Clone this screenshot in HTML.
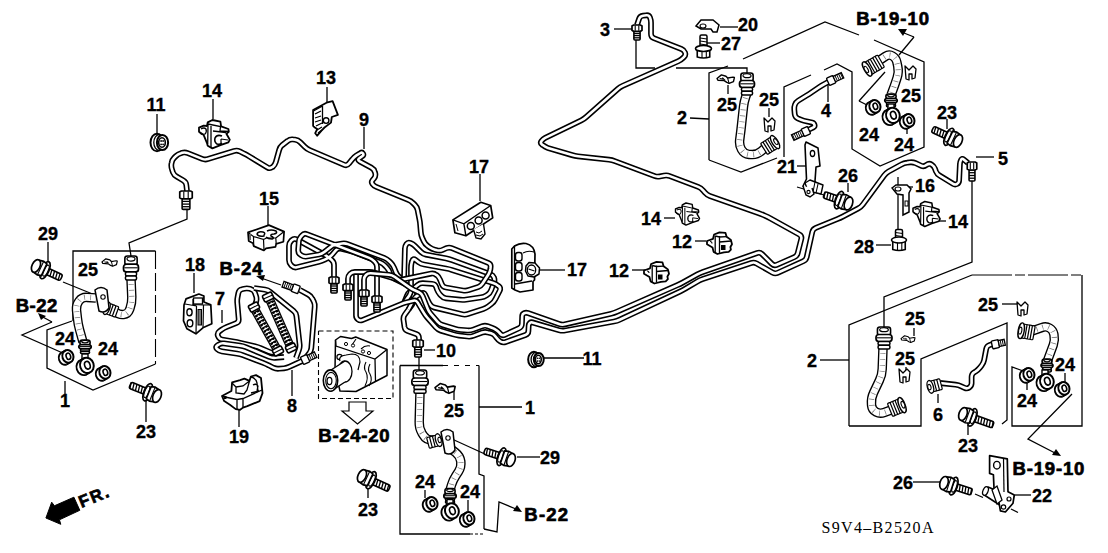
<!DOCTYPE html>
<html><head><meta charset="utf-8"><style>
html,body{margin:0;padding:0;background:#fff;width:1108px;height:553px;overflow:hidden}
svg{display:block}
text{font-family:"Liberation Sans",sans-serif;font-weight:bold;fill:#000}
.n{stroke:#000;stroke-width:0.35}
.b{stroke:#000;stroke-width:0.7}
.s{font-family:"Liberation Serif",serif;font-weight:normal}
</style></head><body>
<svg width="1108" height="553" viewBox="0 0 1108 553">
<rect width="1108" height="553" fill="#fff"/>
<polyline points="157.0,114.0 157.0,133.0" fill="none" stroke="#000" stroke-width="1.3"/>
<polyline points="213.0,99.0 213.0,119.0" fill="none" stroke="#000" stroke-width="1.3"/>
<polyline points="327.0,87.0 327.0,102.0" fill="none" stroke="#000" stroke-width="1.3"/>
<polyline points="364.0,127.0 364.0,149.0" fill="none" stroke="#000" stroke-width="1.3"/>
<polyline points="614.0,29.0 632.0,29.0" fill="none" stroke="#000" stroke-width="1.3"/>
<polyline points="720.0,27.0 738.0,27.0" fill="none" stroke="#000" stroke-width="1.3"/>
<polyline points="707.0,43.0 720.0,43.0" fill="none" stroke="#000" stroke-width="1.3"/>
<polyline points="48.0,242.0 48.0,262.0" fill="none" stroke="#000" stroke-width="1.3"/>
<polyline points="194.0,273.0 194.0,293.0" fill="none" stroke="#000" stroke-width="1.3"/>
<polyline points="222.0,310.0 222.0,323.0" fill="none" stroke="#000" stroke-width="1.3"/>
<polyline points="292.0,370.0 292.0,396.0" fill="none" stroke="#000" stroke-width="1.3"/>
<polyline points="65.0,381.0 65.0,394.0" fill="none" stroke="#000" stroke-width="1.3"/>
<polyline points="146.0,401.0 146.0,422.0" fill="none" stroke="#000" stroke-width="1.3"/>
<polyline points="239.0,410.0 239.0,427.0" fill="none" stroke="#000" stroke-width="1.3"/>
<polyline points="480.0,174.0 480.0,201.0" fill="none" stroke="#000" stroke-width="1.3"/>
<polyline points="268.0,206.0 268.0,225.0" fill="none" stroke="#000" stroke-width="1.3"/>
<polyline points="664.0,218.0 675.0,218.0" fill="none" stroke="#000" stroke-width="1.3"/>
<polyline points="695.0,241.0 706.0,241.0" fill="none" stroke="#000" stroke-width="1.3"/>
<polyline points="540.0,270.0 565.0,270.0" fill="none" stroke="#000" stroke-width="1.3"/>
<polyline points="632.0,270.0 646.0,270.0" fill="none" stroke="#000" stroke-width="1.3"/>
<polyline points="797.0,166.0 806.0,166.0" fill="none" stroke="#000" stroke-width="1.3"/>
<polyline points="848.0,183.0 848.0,192.0" fill="none" stroke="#000" stroke-width="1.3"/>
<polyline points="904.0,187.0 913.0,187.0" fill="none" stroke="#000" stroke-width="1.3"/>
<polyline points="876.0,245.0 891.0,245.0" fill="none" stroke="#000" stroke-width="1.3"/>
<polyline points="938.0,221.0 946.0,221.0" fill="none" stroke="#000" stroke-width="1.3"/>
<polyline points="976.0,157.0 994.0,157.0" fill="none" stroke="#000" stroke-width="1.3"/>
<polyline points="690.0,118.0 709.0,119.0" fill="none" stroke="#000" stroke-width="1.3"/>
<polyline points="728.0,85.0 728.0,94.0" fill="none" stroke="#000" stroke-width="1.3"/>
<polyline points="769.0,108.0 769.0,117.0" fill="none" stroke="#000" stroke-width="1.3"/>
<polyline points="828.0,84.0 828.0,102.0" fill="none" stroke="#000" stroke-width="1.3"/>
<polyline points="947.0,119.0 947.0,129.0" fill="none" stroke="#000" stroke-width="1.3"/>
<polyline points="907.0,128.0 907.0,134.0" fill="none" stroke="#000" stroke-width="1.3"/>
<polyline points="820.0,360.0 849.0,360.0" fill="none" stroke="#000" stroke-width="1.3"/>
<polyline points="914.0,328.0 914.0,336.0" fill="none" stroke="#000" stroke-width="1.3"/>
<polyline points="906.0,367.0 906.0,371.0" fill="none" stroke="#000" stroke-width="1.3"/>
<polyline points="1002.0,304.0 1018.0,304.0" fill="none" stroke="#000" stroke-width="1.3"/>
<polyline points="938.0,394.0 938.0,403.0" fill="none" stroke="#000" stroke-width="1.3"/>
<polyline points="968.0,425.0 968.0,435.0" fill="none" stroke="#000" stroke-width="1.3"/>
<polyline points="1027.0,383.0 1027.0,390.0" fill="none" stroke="#000" stroke-width="1.3"/>
<polyline points="1065.0,373.0 1065.0,384.0" fill="none" stroke="#000" stroke-width="1.3"/>
<polyline points="913.0,482.0 941.0,482.0" fill="none" stroke="#000" stroke-width="1.3"/>
<polyline points="1015.0,495.0 1031.0,495.0" fill="none" stroke="#000" stroke-width="1.3"/>
<polyline points="479.0,407.0 522.0,407.0" fill="none" stroke="#000" stroke-width="1.3"/>
<polyline points="517.0,457.0 540.0,457.0" fill="none" stroke="#000" stroke-width="1.3"/>
<polyline points="425.0,490.0 425.0,498.0" fill="none" stroke="#000" stroke-width="1.3"/>
<polyline points="468.0,500.0 468.0,511.0" fill="none" stroke="#000" stroke-width="1.3"/>
<polyline points="368.0,489.0 368.0,498.0" fill="none" stroke="#000" stroke-width="1.3"/>
<polyline points="454.0,392.0 454.0,400.0" fill="none" stroke="#000" stroke-width="1.3"/>
<polyline points="424.0,350.0 435.0,350.0" fill="none" stroke="#000" stroke-width="1.3"/>
<polyline points="544.0,358.0 584.0,358.0" fill="none" stroke="#000" stroke-width="1.3"/>
<polyline points="73.0,321.0 73.0,251.0 155.5,251.0" fill="none" stroke="#000" stroke-width="1.3"/>
<polyline points="155.5,251.0 155.5,364.0" fill="none" stroke="#000" stroke-width="1.1" stroke-dasharray="18 4"/>
<polyline points="155.5,364.0 93.0,390.0 47.0,368.0 47.0,330.0 72.0,321.0" fill="none" stroke="#000" stroke-width="1.3"/>
<polyline points="63.0,282.0 95.0,295.0" fill="none" stroke="#000" stroke-width="1.3"/>
<polyline points="187.0,209.0 187.0,219.0 129.0,243.0 131.0,256.0" fill="none" stroke="#000" stroke-width="1.3"/>
<polyline points="52.0,322.0 22.0,335.0 65.0,354.0" fill="none" stroke="#000" stroke-width="1.3"/>
<path d="M46,316 l-8,-3 l3,7 z" fill="#000"/>
<polyline points="41.0,316.0 52.0,322.0" fill="none" stroke="#000" stroke-width="1.3"/>
<polyline points="400.0,365.5 443.0,365.5" fill="none" stroke="#000" stroke-width="1.3"/>
<polyline points="443.0,365.5 479.0,365.5" fill="none" stroke="#000" stroke-width="1.1" stroke-dasharray="5 6"/>
<polyline points="479.0,365.5 479.0,474.0 484.0,476.0 484.0,529.0" fill="none" stroke="#000" stroke-width="1.3"/>
<polyline points="400.0,365.5 400.0,534.0 470.0,534.0" fill="none" stroke="#000" stroke-width="1.3"/>
<polyline points="419.0,357.0 419.0,371.0" fill="none" stroke="#000" stroke-width="1.3"/>
<polyline points="470.0,534.0 484.0,534.0" fill="none" stroke="#000" stroke-width="1.0" stroke-dasharray="3 2"/>
<polyline points="484.0,529.0 497.0,532.0 499.0,502.0 516.0,509.0" fill="none" stroke="#000" stroke-width="1.3"/>
<path d="M522,512 l-9,-1 l4,-6 z" fill="#000"/>
<polyline points="441.0,434.0 487.0,455.0" fill="none" stroke="#000" stroke-width="1.3"/>
<polyline points="709.0,160.0 709.0,73.0 728.0,66.0" fill="none" stroke="#000" stroke-width="1.3"/>
<polyline points="636.0,40.0 636.0,68.0 655.0,68.0" fill="none" stroke="#000" stroke-width="1.3"/>
<polyline points="676.0,68.0 747.0,68.0 747.0,74.0" fill="none" stroke="#000" stroke-width="1.3"/>
<polyline points="743.0,59.0 825.0,22.0 859.0,35.0" fill="none" stroke="#000" stroke-width="1.3"/>
<polyline points="874.0,40.0 924.0,62.0 924.0,147.0 880.0,166.0 852.0,149.0 852.0,72.0 837.0,64.0 824.0,70.0" fill="none" stroke="#000" stroke-width="1.3"/>
<polyline points="811.0,75.0 784.0,87.0 784.0,157.0" fill="none" stroke="#000" stroke-width="1.3"/>
<polyline points="709.0,160.0 741.0,172.0 777.0,158.0" fill="none" stroke="#000" stroke-width="1.3"/>
<polyline points="914.0,37.0 899.0,55.0" fill="none" stroke="#000" stroke-width="1.3"/>
<polyline points="914.0,37.0 904.0,33.0" fill="none" stroke="#000" stroke-width="1.3"/>
<path d="M898,29 l9,0 l-4,7 z" fill="#000"/>
<polyline points="859.0,101.0 885.0,72.0" fill="none" stroke="#000" stroke-width="1.3"/>
<polyline points="859.0,101.0 867.0,105.0" fill="none" stroke="#000" stroke-width="1.3"/>
<polyline points="972.0,181.0 972.0,262.0 884.0,297.0 884.0,327.0" fill="none" stroke="#000" stroke-width="1.3"/>
<polyline points="849.0,426.0 849.0,325.0 972.0,275.0" fill="none" stroke="#000" stroke-width="1.3"/>
<polyline points="972.0,275.0 1082.0,275.0" fill="none" stroke="#000" stroke-width="1.0" stroke-dasharray="40 3 10 3"/>
<polyline points="1082.0,275.0 1082.0,426.0 1012.0,426.0 1012.0,367.0 1026.0,372.0" fill="none" stroke="#000" stroke-width="1.3"/>
<polyline points="849.0,426.0 921.0,426.0 921.0,359.0 1007.0,323.0 1007.0,420.0 1002.0,424.0" fill="none" stroke="#000" stroke-width="1.3"/>
<polyline points="1072.0,394.0 1028.0,439.0 1055.0,453.0" fill="none" stroke="#000" stroke-width="1.3"/>
<path d="M1061,456 l-9,-1 l4,-6 z" fill="#000"/>
<polyline points="975.0,494.0 983.0,497.5" fill="none" stroke="#000" stroke-width="1.3"/>
<polyline points="1011.0,509.0 1018.0,512.5" fill="none" stroke="#000" stroke-width="1.3"/>
<polyline points="898.0,177.0 898.0,230.0" fill="none" stroke="#000" stroke-width="1.3"/>
<polyline points="797.0,187.0 824.0,195.0" fill="none" stroke="#000" stroke-width="1.3"/>
<polyline points="318.5,331.0 393.0,331.0 393.0,398.5 318.5,398.5 318.5,331.0" fill="none" stroke="#000" stroke-width="1.1" stroke-dasharray="5 3"/>
<path d="M349,402 h17 v9 h7 l-15.5,13 l-15.5,-13 h7 z" fill="#fff" stroke="#000" stroke-width="1.2"/>
<polyline points="261.0,278.0 281.0,285.0" fill="none" stroke="#000" stroke-width="1.3"/>
<path d="M256,276 l9,-1 l-2,6 z" fill="#000"/>
<path d="M334.0,278.0 L334.0,265.0 Q334.0,262.0 331.7,260.0 L329.3,258.0 Q327.0,256.0 324.4,254.6 L296.6,239.4 Q294.0,238.0 291.9,240.1 L291.1,240.9 Q289.0,243.0 289.0,246.0 L289.0,260.0 Q289.0,263.0 291.1,265.1 L291.9,265.9 Q294.0,268.0 296.9,267.3 L319.1,261.7 Q322.0,261.0 324.7,259.7 L327.3,258.3 Q330.0,257.0 332.0,254.8 L336.0,250.2 Q338.0,248.0 340.9,248.7 L348.1,250.3 Q351.0,251.0 353.8,252.1 L380.2,262.4 Q383.0,263.5 385.0,265.7 L387.0,267.8 Q389.0,270.0 389.8,272.9 L390.2,274.1 Q391.0,277.0 393.7,278.3 L402.3,282.7 Q405.0,284.0 407.6,285.5 L409.4,286.5 Q412.0,288.0 412.4,291.0 L413.6,299.0 Q414.0,302.0 412.2,304.4 L404.8,314.6 Q403.0,317.0 403.5,320.0 L404.5,327.0 Q405.0,330.0 407.8,331.0 L416.2,334.0 Q419.0,335.0 419.0,338.0 L419.0,342.0" fill="none" stroke="#000" stroke-width="5.8" stroke-linejoin="round"/>
<path d="M334.0,278.0 L334.0,265.0 Q334.0,262.0 331.7,260.0 L329.3,258.0 Q327.0,256.0 324.4,254.6 L296.6,239.4 Q294.0,238.0 291.9,240.1 L291.1,240.9 Q289.0,243.0 289.0,246.0 L289.0,260.0 Q289.0,263.0 291.1,265.1 L291.9,265.9 Q294.0,268.0 296.9,267.3 L319.1,261.7 Q322.0,261.0 324.7,259.7 L327.3,258.3 Q330.0,257.0 332.0,254.8 L336.0,250.2 Q338.0,248.0 340.9,248.7 L348.1,250.3 Q351.0,251.0 353.8,252.1 L380.2,262.4 Q383.0,263.5 385.0,265.7 L387.0,267.8 Q389.0,270.0 389.8,272.9 L390.2,274.1 Q391.0,277.0 393.7,278.3 L402.3,282.7 Q405.0,284.0 407.6,285.5 L409.4,286.5 Q412.0,288.0 412.4,291.0 L413.6,299.0 Q414.0,302.0 412.2,304.4 L404.8,314.6 Q403.0,317.0 403.5,320.0 L404.5,327.0 Q405.0,330.0 407.8,331.0 L416.2,334.0 Q419.0,335.0 419.0,338.0 L419.0,342.0" fill="none" stroke="#fff" stroke-width="2.6" stroke-linejoin="round"/>
<path d="M377.0,297.0 L377.0,267.0 Q377.0,264.0 374.9,261.9 L374.1,261.1 Q372.0,259.0 369.2,257.9 L306.8,234.1 Q304.0,233.0 302.1,235.3 L300.9,236.7 Q299.0,239.0 298.8,242.0 L298.2,250.0 Q298.0,253.0 300.5,254.7 L301.5,255.3 Q304.0,257.0 307.0,256.5 L319.0,254.5 Q322.0,254.0 324.3,252.1 L330.7,246.9 Q333.0,245.0 336.0,244.5 L342.0,243.5 Q345.0,243.0 347.8,244.1 L384.2,257.9 Q387.0,259.0 389.1,261.1 L390.9,262.9 Q393.0,265.0 394.1,267.8 L395.9,272.2 Q397.0,275.0 399.3,277.0 L401.7,279.0 Q404.0,281.0 404.1,278.0 L404.9,248.5 Q405.0,246.0 406.5,244.0 L406.5,244.0 Q408.0,242.0 410.3,242.9 L410.5,243.0 Q413.0,244.0 414.9,245.9 L420.9,251.9 Q423.0,254.0 425.9,254.6 L446.1,258.4 Q449.0,259.0 451.8,260.0 L490.5,274.1 Q493.0,275.0 494.0,277.5 L494.0,277.5 Q495.0,280.0 494.0,282.5 L491.1,290.2 Q490.0,293.0 487.5,294.7 L486.5,295.3 Q484.0,297.0 481.0,297.4 L466.0,299.6 Q463.0,300.0 460.0,299.7 L446.0,298.3 Q443.0,298.0 441.1,295.7 L439.9,294.3 Q438.0,292.0 436.9,289.2 L436.1,286.8 Q435.0,284.0 432.0,283.8 L423.0,283.2 Q420.0,283.0 417.7,284.9 L410.3,291.1 Q408.0,293.0 406.9,295.8 L404.0,303.0" fill="none" stroke="#000" stroke-width="5.8" stroke-linejoin="round"/>
<path d="M377.0,297.0 L377.0,267.0 Q377.0,264.0 374.9,261.9 L374.1,261.1 Q372.0,259.0 369.2,257.9 L306.8,234.1 Q304.0,233.0 302.1,235.3 L300.9,236.7 Q299.0,239.0 298.8,242.0 L298.2,250.0 Q298.0,253.0 300.5,254.7 L301.5,255.3 Q304.0,257.0 307.0,256.5 L319.0,254.5 Q322.0,254.0 324.3,252.1 L330.7,246.9 Q333.0,245.0 336.0,244.5 L342.0,243.5 Q345.0,243.0 347.8,244.1 L384.2,257.9 Q387.0,259.0 389.1,261.1 L390.9,262.9 Q393.0,265.0 394.1,267.8 L395.9,272.2 Q397.0,275.0 399.3,277.0 L401.7,279.0 Q404.0,281.0 404.1,278.0 L404.9,248.5 Q405.0,246.0 406.5,244.0 L406.5,244.0 Q408.0,242.0 410.3,242.9 L410.5,243.0 Q413.0,244.0 414.9,245.9 L420.9,251.9 Q423.0,254.0 425.9,254.6 L446.1,258.4 Q449.0,259.0 451.8,260.0 L490.5,274.1 Q493.0,275.0 494.0,277.5 L494.0,277.5 Q495.0,280.0 494.0,282.5 L491.1,290.2 Q490.0,293.0 487.5,294.7 L486.5,295.3 Q484.0,297.0 481.0,297.4 L466.0,299.6 Q463.0,300.0 460.0,299.7 L446.0,298.3 Q443.0,298.0 441.1,295.7 L439.9,294.3 Q438.0,292.0 436.9,289.2 L436.1,286.8 Q435.0,284.0 432.0,283.8 L423.0,283.2 Q420.0,283.0 417.7,284.9 L410.3,291.1 Q408.0,293.0 406.9,295.8 L404.0,303.0" fill="none" stroke="#fff" stroke-width="2.6" stroke-linejoin="round"/>
<path d="M404.0,303.0 L409.3,295.5 Q411.0,293.0 411.0,290.0 L411.0,268.0 Q411.0,265.0 411.8,262.1 L412.2,260.9 Q413.0,258.0 415.4,259.8 L418.6,262.2 Q421.0,264.0 424.0,264.5 L446.0,268.5 Q449.0,269.0 451.9,269.9 L493.1,283.1 Q496.0,284.0 498.3,285.9 L498.7,286.1 Q501.0,288.0 499.7,290.7 L495.3,299.3 Q494.0,302.0 491.6,303.8 L488.4,306.2 Q486.0,308.0 483.2,308.9 L467.8,314.1 Q465.0,315.0 462.1,314.3 L434.4,307.6 Q432.0,307.0 430.5,305.0 L430.5,305.0 Q429.0,303.0 428.0,300.7 L425.2,294.7 Q424.0,292.0 421.4,293.5 L417.6,295.5 Q415.0,297.0 413.6,299.7 L408.5,309.5" fill="none" stroke="#000" stroke-width="5.8" stroke-linejoin="round"/>
<path d="M404.0,303.0 L409.3,295.5 Q411.0,293.0 411.0,290.0 L411.0,268.0 Q411.0,265.0 411.8,262.1 L412.2,260.9 Q413.0,258.0 415.4,259.8 L418.6,262.2 Q421.0,264.0 424.0,264.5 L446.0,268.5 Q449.0,269.0 451.9,269.9 L493.1,283.1 Q496.0,284.0 498.3,285.9 L498.7,286.1 Q501.0,288.0 499.7,290.7 L495.3,299.3 Q494.0,302.0 491.6,303.8 L488.4,306.2 Q486.0,308.0 483.2,308.9 L467.8,314.1 Q465.0,315.0 462.1,314.3 L434.4,307.6 Q432.0,307.0 430.5,305.0 L430.5,305.0 Q429.0,303.0 428.0,300.7 L425.2,294.7 Q424.0,292.0 421.4,293.5 L417.6,295.5 Q415.0,297.0 413.6,299.7 L408.5,309.5" fill="none" stroke="#fff" stroke-width="2.6" stroke-linejoin="round"/>
<path d="M187.0,191.0 L186.3,185.0 Q186.0,182.0 183.4,180.5 L176.6,176.5 Q174.0,175.0 172.9,172.2 L172.1,169.8 Q171.0,167.0 171.4,164.0 L171.6,163.0 Q172.0,160.0 174.1,157.9 L175.9,156.1 Q178.0,154.0 180.9,153.2 L182.1,152.8 Q185.0,152.0 187.8,153.1 L202.2,158.9 Q205.0,160.0 207.9,159.1 L234.1,150.9 Q237.0,150.0 239.7,151.3 L244.3,153.7 Q247.0,155.0 249.6,156.6 L267.4,167.4 Q270.0,169.0 272.3,167.1 L272.7,166.9 Q275.0,165.0 275.8,162.1 L279.2,149.9 Q280.0,147.0 282.3,145.1 L287.7,140.9 Q290.0,139.0 293.0,139.4 L295.0,139.6 Q298.0,140.0 300.1,142.1 L304.9,146.9 Q307.0,149.0 309.8,150.2 L344.2,164.8 Q347.0,166.0 348.8,163.6 L352.2,159.4 Q354.0,157.0 356.5,155.4 L360.5,153.0 Q362.0,152.0 363.0,153.5 L363.0,153.5 Q364.0,155.0 362.5,156.0 L359.4,158.3 Q357.0,160.0 359.7,161.4 L371.3,167.6 Q374.0,169.0 374.8,171.9 L375.2,173.1 Q376.0,176.0 374.1,178.3 L372.6,180.1 Q371.0,182.0 372.5,184.0 L372.5,184.0 Q374.0,186.0 376.3,186.9 L408.2,199.9 Q411.0,201.0 413.1,203.1 L414.9,204.9 Q417.0,207.0 417.6,209.9 L419.4,219.1 Q420.0,222.0 420.2,225.0 L420.8,232.0 Q421.0,235.0 422.2,237.7 L423.8,241.3 Q425.0,244.0 427.4,245.7 L429.6,247.3 Q432.0,249.0 434.9,249.7 L437.1,250.3 Q440.0,251.0 442.7,249.8 L446.3,248.2 Q449.0,247.0 451.8,248.1 L488.2,262.9 Q491.0,264.0 490.6,267.0 L490.4,269.0 Q490.0,272.0 488.4,274.5 L482.6,283.5 Q481.0,286.0 478.2,286.9 L468.8,290.1 Q466.0,291.0 463.0,290.5 L446.0,287.5 Q443.0,287.0 441.9,284.2 L440.1,279.8 Q439.0,277.0 436.7,275.1 L436.3,274.9 Q434.0,273.0 431.1,273.6 L402.9,279.4 Q400.0,280.0 397.1,279.2 L374.9,272.8 Q372.0,272.0 369.0,272.0 L354.8,272.0 Q352.0,272.0 350.0,274.0 L350.0,274.0 Q348.0,276.0 348.0,278.8 L348.0,285.0" fill="none" stroke="#000" stroke-width="5.8" stroke-linejoin="round"/>
<path d="M187.0,191.0 L186.3,185.0 Q186.0,182.0 183.4,180.5 L176.6,176.5 Q174.0,175.0 172.9,172.2 L172.1,169.8 Q171.0,167.0 171.4,164.0 L171.6,163.0 Q172.0,160.0 174.1,157.9 L175.9,156.1 Q178.0,154.0 180.9,153.2 L182.1,152.8 Q185.0,152.0 187.8,153.1 L202.2,158.9 Q205.0,160.0 207.9,159.1 L234.1,150.9 Q237.0,150.0 239.7,151.3 L244.3,153.7 Q247.0,155.0 249.6,156.6 L267.4,167.4 Q270.0,169.0 272.3,167.1 L272.7,166.9 Q275.0,165.0 275.8,162.1 L279.2,149.9 Q280.0,147.0 282.3,145.1 L287.7,140.9 Q290.0,139.0 293.0,139.4 L295.0,139.6 Q298.0,140.0 300.1,142.1 L304.9,146.9 Q307.0,149.0 309.8,150.2 L344.2,164.8 Q347.0,166.0 348.8,163.6 L352.2,159.4 Q354.0,157.0 356.5,155.4 L360.5,153.0 Q362.0,152.0 363.0,153.5 L363.0,153.5 Q364.0,155.0 362.5,156.0 L359.4,158.3 Q357.0,160.0 359.7,161.4 L371.3,167.6 Q374.0,169.0 374.8,171.9 L375.2,173.1 Q376.0,176.0 374.1,178.3 L372.6,180.1 Q371.0,182.0 372.5,184.0 L372.5,184.0 Q374.0,186.0 376.3,186.9 L408.2,199.9 Q411.0,201.0 413.1,203.1 L414.9,204.9 Q417.0,207.0 417.6,209.9 L419.4,219.1 Q420.0,222.0 420.2,225.0 L420.8,232.0 Q421.0,235.0 422.2,237.7 L423.8,241.3 Q425.0,244.0 427.4,245.7 L429.6,247.3 Q432.0,249.0 434.9,249.7 L437.1,250.3 Q440.0,251.0 442.7,249.8 L446.3,248.2 Q449.0,247.0 451.8,248.1 L488.2,262.9 Q491.0,264.0 490.6,267.0 L490.4,269.0 Q490.0,272.0 488.4,274.5 L482.6,283.5 Q481.0,286.0 478.2,286.9 L468.8,290.1 Q466.0,291.0 463.0,290.5 L446.0,287.5 Q443.0,287.0 441.9,284.2 L440.1,279.8 Q439.0,277.0 436.7,275.1 L436.3,274.9 Q434.0,273.0 431.1,273.6 L402.9,279.4 Q400.0,280.0 397.1,279.2 L374.9,272.8 Q372.0,272.0 369.0,272.0 L354.8,272.0 Q352.0,272.0 350.0,274.0 L350.0,274.0 Q348.0,276.0 348.0,278.8 L348.0,285.0" fill="none" stroke="#fff" stroke-width="2.6" stroke-linejoin="round"/>
<path d="M637.0,25.0 L639.1,18.8 Q640.0,16.0 643.0,15.7 L646.3,15.3 Q649.0,15.0 650.0,17.5 L650.0,17.5 Q651.0,20.0 651.0,22.7 L651.0,34.0 Q651.0,37.0 653.8,38.1 L681.5,49.0 Q684.0,50.0 685.0,52.5 L685.0,52.5 Q686.0,55.0 684.1,56.9 L683.1,57.9 Q681.0,60.0 678.3,61.2 L622.7,85.8 Q620.0,87.0 617.8,89.0 L586.2,117.0 Q584.0,119.0 581.3,120.3 L545.2,137.9 Q543.0,139.0 541.5,141.0 L541.5,141.0 Q540.0,143.0 542.0,144.6 L542.7,145.1 Q545.0,147.0 547.9,147.9 L572.1,155.1 Q575.0,156.0 578.0,156.3 L609.0,159.7 Q612.0,160.0 614.8,161.1 L654.2,175.9 Q657.0,177.0 659.9,176.4 L664.1,175.6 Q667.0,175.0 669.8,176.1 L698.2,186.9 Q701.0,188.0 703.0,190.3 L705.0,192.7 Q707.0,195.0 709.8,196.0 L758.2,213.0 Q761.0,214.0 763.8,215.2 L765.2,215.8 Q768.0,217.0 770.6,218.5 L799.4,234.5 Q802.0,236.0 801.3,238.9 L797.7,253.1 Q797.0,256.0 794.2,257.2 L776.8,264.8 Q774.0,266.0 771.9,263.9 L762.1,254.1 Q760.0,252.0 757.2,253.0 L702.8,272.0 Q700.0,273.0 697.4,274.4 L682.6,282.6 Q680.0,284.0 677.3,285.2 L616.7,311.8 Q614.0,313.0 611.1,313.7 L564.9,324.3 Q562.0,325.0 559.2,324.0 L527.9,313.1 Q526.0,312.4 524.1,313.2 L524.1,313.2 Q522.3,314.0 522.2,316.0 L521.9,324.0 Q521.8,327.0 519.1,328.2 L504.7,334.8 Q502.0,336.0 500.1,333.7 L499.5,332.8 Q498.0,331.0 496.0,329.8 L496.0,329.8 Q494.0,328.5 491.8,327.7 L487.8,326.2 Q485.0,325.2 482.2,326.2 L473.2,329.6 Q470.4,330.6 467.4,330.4 L460.8,329.9 Q457.8,329.7 454.9,328.8 L442.6,325.1 Q439.7,324.2 437.7,321.9 L430.8,313.9 Q428.8,311.6 427.7,308.8 L422.7,296.3 Q421.6,293.5 418.9,292.2 L414.7,290.3 Q412.0,289.0 409.5,287.3 L394.5,276.7 Q392.0,275.0 389.0,274.8 L370.8,273.2 Q368.0,273.0 366.0,275.0 L366.0,275.0 Q364.0,277.0 364.0,279.8 L364.0,290.0" fill="none" stroke="#000" stroke-width="5.8" stroke-linejoin="round"/>
<path d="M637.0,25.0 L639.1,18.8 Q640.0,16.0 643.0,15.7 L646.3,15.3 Q649.0,15.0 650.0,17.5 L650.0,17.5 Q651.0,20.0 651.0,22.7 L651.0,34.0 Q651.0,37.0 653.8,38.1 L681.5,49.0 Q684.0,50.0 685.0,52.5 L685.0,52.5 Q686.0,55.0 684.1,56.9 L683.1,57.9 Q681.0,60.0 678.3,61.2 L622.7,85.8 Q620.0,87.0 617.8,89.0 L586.2,117.0 Q584.0,119.0 581.3,120.3 L545.2,137.9 Q543.0,139.0 541.5,141.0 L541.5,141.0 Q540.0,143.0 542.0,144.6 L542.7,145.1 Q545.0,147.0 547.9,147.9 L572.1,155.1 Q575.0,156.0 578.0,156.3 L609.0,159.7 Q612.0,160.0 614.8,161.1 L654.2,175.9 Q657.0,177.0 659.9,176.4 L664.1,175.6 Q667.0,175.0 669.8,176.1 L698.2,186.9 Q701.0,188.0 703.0,190.3 L705.0,192.7 Q707.0,195.0 709.8,196.0 L758.2,213.0 Q761.0,214.0 763.8,215.2 L765.2,215.8 Q768.0,217.0 770.6,218.5 L799.4,234.5 Q802.0,236.0 801.3,238.9 L797.7,253.1 Q797.0,256.0 794.2,257.2 L776.8,264.8 Q774.0,266.0 771.9,263.9 L762.1,254.1 Q760.0,252.0 757.2,253.0 L702.8,272.0 Q700.0,273.0 697.4,274.4 L682.6,282.6 Q680.0,284.0 677.3,285.2 L616.7,311.8 Q614.0,313.0 611.1,313.7 L564.9,324.3 Q562.0,325.0 559.2,324.0 L527.9,313.1 Q526.0,312.4 524.1,313.2 L524.1,313.2 Q522.3,314.0 522.2,316.0 L521.9,324.0 Q521.8,327.0 519.1,328.2 L504.7,334.8 Q502.0,336.0 500.1,333.7 L499.5,332.8 Q498.0,331.0 496.0,329.8 L496.0,329.8 Q494.0,328.5 491.8,327.7 L487.8,326.2 Q485.0,325.2 482.2,326.2 L473.2,329.6 Q470.4,330.6 467.4,330.4 L460.8,329.9 Q457.8,329.7 454.9,328.8 L442.6,325.1 Q439.7,324.2 437.7,321.9 L430.8,313.9 Q428.8,311.6 427.7,308.8 L422.7,296.3 Q421.6,293.5 418.9,292.2 L414.7,290.3 Q412.0,289.0 409.5,287.3 L394.5,276.7 Q392.0,275.0 389.0,274.8 L370.8,273.2 Q368.0,273.0 366.0,275.0 L366.0,275.0 Q364.0,277.0 364.0,279.8 L364.0,290.0" fill="none" stroke="#fff" stroke-width="2.6" stroke-linejoin="round"/>
<path d="M968.0,163.0 L963.7,159.4 Q962.0,158.0 961.0,160.0 L961.0,160.0 Q960.0,162.0 959.9,164.2 L959.1,180.8 Q959.0,183.0 957.0,184.0 L957.0,184.0 Q955.0,185.0 953.1,183.8 L939.6,175.6 Q937.0,174.0 935.9,171.2 L935.0,168.7 Q934.0,166.0 931.5,164.5 L931.5,164.5 Q929.0,163.0 926.7,164.8 L926.3,165.1 Q924.0,167.0 921.3,165.8 L915.7,163.2 Q913.0,162.0 910.0,162.3 L907.0,162.7 Q904.0,163.0 901.4,164.5 L888.6,171.5 Q886.0,173.0 884.2,175.4 L862.8,204.6 Q861.0,207.0 858.3,208.4 L842.7,216.6 Q840.0,218.0 837.2,219.1 L815.8,227.9 Q813.0,229.0 812.3,231.9 L806.7,257.1 Q806.0,260.0 803.3,261.2 L777.7,272.8 Q775.0,274.0 772.4,272.5 L756.6,263.5 Q754.0,262.0 751.2,262.9 L702.8,279.1 Q700.0,280.0 697.4,281.5 L685.6,288.5 Q683.0,290.0 680.3,291.3 L619.7,319.7 Q617.0,321.0 614.0,321.5 L565.0,330.5 Q562.0,331.0 559.1,330.2 L532.4,322.4 Q531.0,322.0 529.9,323.0 L529.9,323.0 Q528.8,324.0 528.7,325.5 L528.4,331.0 Q528.3,334.0 525.5,335.0 L505.7,342.0 Q503.0,343.0 500.5,341.5 L500.5,341.5 Q498.0,340.0 496.3,337.6 L495.7,336.7 Q494.0,334.2 491.1,333.3 L487.9,332.4 Q485.0,331.5 482.2,332.5 L473.2,335.9 Q470.4,336.9 467.4,336.5 L459.0,335.5 Q456.0,335.1 453.1,334.2 L440.8,330.6 Q437.9,329.7 435.9,327.4 L427.2,317.5 Q425.2,315.2 423.7,312.6 L417.7,302.6 Q416.2,300.0 413.3,300.7 L406.9,302.3 Q404.0,303.0 401.2,304.1 L362.3,320.1 Q360.0,321.0 358.0,319.5 L358.0,319.5 Q356.0,318.0 356.0,315.5 L356.0,275.0" fill="none" stroke="#000" stroke-width="5.8" stroke-linejoin="round"/>
<path d="M968.0,163.0 L963.7,159.4 Q962.0,158.0 961.0,160.0 L961.0,160.0 Q960.0,162.0 959.9,164.2 L959.1,180.8 Q959.0,183.0 957.0,184.0 L957.0,184.0 Q955.0,185.0 953.1,183.8 L939.6,175.6 Q937.0,174.0 935.9,171.2 L935.0,168.7 Q934.0,166.0 931.5,164.5 L931.5,164.5 Q929.0,163.0 926.7,164.8 L926.3,165.1 Q924.0,167.0 921.3,165.8 L915.7,163.2 Q913.0,162.0 910.0,162.3 L907.0,162.7 Q904.0,163.0 901.4,164.5 L888.6,171.5 Q886.0,173.0 884.2,175.4 L862.8,204.6 Q861.0,207.0 858.3,208.4 L842.7,216.6 Q840.0,218.0 837.2,219.1 L815.8,227.9 Q813.0,229.0 812.3,231.9 L806.7,257.1 Q806.0,260.0 803.3,261.2 L777.7,272.8 Q775.0,274.0 772.4,272.5 L756.6,263.5 Q754.0,262.0 751.2,262.9 L702.8,279.1 Q700.0,280.0 697.4,281.5 L685.6,288.5 Q683.0,290.0 680.3,291.3 L619.7,319.7 Q617.0,321.0 614.0,321.5 L565.0,330.5 Q562.0,331.0 559.1,330.2 L532.4,322.4 Q531.0,322.0 529.9,323.0 L529.9,323.0 Q528.8,324.0 528.7,325.5 L528.4,331.0 Q528.3,334.0 525.5,335.0 L505.7,342.0 Q503.0,343.0 500.5,341.5 L500.5,341.5 Q498.0,340.0 496.3,337.6 L495.7,336.7 Q494.0,334.2 491.1,333.3 L487.9,332.4 Q485.0,331.5 482.2,332.5 L473.2,335.9 Q470.4,336.9 467.4,336.5 L459.0,335.5 Q456.0,335.1 453.1,334.2 L440.8,330.6 Q437.9,329.7 435.9,327.4 L427.2,317.5 Q425.2,315.2 423.7,312.6 L417.7,302.6 Q416.2,300.0 413.3,300.7 L406.9,302.3 Q404.0,303.0 401.2,304.1 L362.3,320.1 Q360.0,321.0 358.0,319.5 L358.0,319.5 Q356.0,318.0 356.0,315.5 L356.0,275.0" fill="none" stroke="#fff" stroke-width="2.6" stroke-linejoin="round"/>
<path d="M830.0,81.0 L823.6,84.5 Q821.0,86.0 818.5,87.7 L811.5,92.3 Q809.0,94.0 806.4,95.6 L798.3,100.6 Q796.0,102.0 795.0,104.5 L795.0,104.5 Q794.0,107.0 794.3,109.7 L794.7,114.0 Q795.0,117.0 797.7,118.3 L798.3,118.7 Q801.0,120.0 803.9,120.7 L812.2,122.6 Q814.0,123.0 814.5,124.8 L814.5,124.8 Q815.0,126.5 813.4,127.3 L808.0,130.0" fill="none" stroke="#000" stroke-width="5.8" stroke-linejoin="round"/>
<path d="M830.0,81.0 L823.6,84.5 Q821.0,86.0 818.5,87.7 L811.5,92.3 Q809.0,94.0 806.4,95.6 L798.3,100.6 Q796.0,102.0 795.0,104.5 L795.0,104.5 Q794.0,107.0 794.3,109.7 L794.7,114.0 Q795.0,117.0 797.7,118.3 L798.3,118.7 Q801.0,120.0 803.9,120.7 L812.2,122.6 Q814.0,123.0 814.5,124.8 L814.5,124.8 Q815.0,126.5 813.4,127.3 L808.0,130.0" fill="none" stroke="#fff" stroke-width="2.6" stroke-linejoin="round"/>
<path d="M940.0,383.0 L955.6,384.7 Q958.6,385.0 961.3,386.3 L964.5,387.8 Q967.0,389.0 969.3,387.5 L969.3,387.5 Q971.6,386.0 971.6,383.3 L971.6,377.0 Q971.6,374.0 974.1,372.4 L975.5,371.6 Q978.0,370.0 979.9,367.6 L981.6,365.4 Q983.5,363.0 984.1,360.1 L986.2,348.9 Q986.8,346.0 989.7,345.1 L993.0,344.0" fill="none" stroke="#000" stroke-width="5.8" stroke-linejoin="round"/>
<path d="M940.0,383.0 L955.6,384.7 Q958.6,385.0 961.3,386.3 L964.5,387.8 Q967.0,389.0 969.3,387.5 L969.3,387.5 Q971.6,386.0 971.6,383.3 L971.6,377.0 Q971.6,374.0 974.1,372.4 L975.5,371.6 Q978.0,370.0 979.9,367.6 L981.6,365.4 Q983.5,363.0 984.1,360.1 L986.2,348.9 Q986.8,346.0 989.7,345.1 L993.0,344.0" fill="none" stroke="#fff" stroke-width="2.6" stroke-linejoin="round"/>
<path d="M254.0,308.0 L256.1,301.8 Q257.0,299.0 256.1,296.2 L254.9,292.8 Q254.0,290.0 251.1,289.2 L249.9,288.8 Q247.0,288.0 244.1,288.7 L241.9,289.3 Q239.0,290.0 238.4,292.9 L237.6,297.1 Q237.0,300.0 237.3,303.0 L238.7,319.0 Q239.0,322.0 236.2,323.1 L226.8,326.9 Q224.0,328.0 221.6,329.7 L219.4,331.3 Q217.0,333.0 217.9,335.8 L218.1,336.2 Q219.0,339.0 222.0,339.5 L234.0,341.5 Q237.0,342.0 239.9,342.7 L255.1,346.3 Q258.0,347.0 260.8,348.2 L269.2,351.8 Q272.0,353.0 275.0,352.7 L281.0,352.0" fill="none" stroke="#000" stroke-width="5.8" stroke-linejoin="round"/>
<path d="M254.0,308.0 L256.1,301.8 Q257.0,299.0 256.1,296.2 L254.9,292.8 Q254.0,290.0 251.1,289.2 L249.9,288.8 Q247.0,288.0 244.1,288.7 L241.9,289.3 Q239.0,290.0 238.4,292.9 L237.6,297.1 Q237.0,300.0 237.3,303.0 L238.7,319.0 Q239.0,322.0 236.2,323.1 L226.8,326.9 Q224.0,328.0 221.6,329.7 L219.4,331.3 Q217.0,333.0 217.9,335.8 L218.1,336.2 Q219.0,339.0 222.0,339.5 L234.0,341.5 Q237.0,342.0 239.9,342.7 L255.1,346.3 Q258.0,347.0 260.8,348.2 L269.2,351.8 Q272.0,353.0 275.0,352.7 L281.0,352.0" fill="none" stroke="#fff" stroke-width="2.6" stroke-linejoin="round"/>
<path d="M284.0,357.0 L275.0,357.8 Q272.0,358.0 269.2,356.9 L245.8,347.1 Q243.0,346.0 240.0,345.6 L224.0,343.4 Q221.0,343.0 218.5,344.7 L217.4,345.4 Q215.0,347.0 217.0,349.0 L217.0,349.0 Q219.0,351.0 221.8,351.4 L237.0,353.6 Q240.0,354.0 242.8,355.1 L263.2,362.9 Q266.0,364.0 268.7,365.3 L273.3,367.7 Q276.0,369.0 279.0,368.7 L284.0,368.3 Q287.0,368.0 289.7,366.7 L302.0,361.0" fill="none" stroke="#000" stroke-width="5.8" stroke-linejoin="round"/>
<path d="M284.0,357.0 L275.0,357.8 Q272.0,358.0 269.2,356.9 L245.8,347.1 Q243.0,346.0 240.0,345.6 L224.0,343.4 Q221.0,343.0 218.5,344.7 L217.4,345.4 Q215.0,347.0 217.0,349.0 L217.0,349.0 Q219.0,351.0 221.8,351.4 L237.0,353.6 Q240.0,354.0 242.8,355.1 L263.2,362.9 Q266.0,364.0 268.7,365.3 L273.3,367.7 Q276.0,369.0 279.0,368.7 L284.0,368.3 Q287.0,368.0 289.7,366.7 L302.0,361.0" fill="none" stroke="#fff" stroke-width="2.6" stroke-linejoin="round"/>
<path d="M254.0,288.0 L265.0,289.6 Q268.0,290.0 270.3,291.9 L293.7,311.1 Q296.0,313.0 296.4,316.0 L299.6,344.0 Q300.0,347.0 299.0,349.8 L296.0,358.0" fill="none" stroke="#000" stroke-width="5.8" stroke-linejoin="round"/>
<path d="M254.0,288.0 L265.0,289.6 Q268.0,290.0 270.3,291.9 L293.7,311.1 Q296.0,313.0 296.4,316.0 L299.6,344.0 Q300.0,347.0 299.0,349.8 L296.0,358.0" fill="none" stroke="#fff" stroke-width="2.6" stroke-linejoin="round"/>
<path d="M300.0,290.0 L308.4,294.6 Q311.0,296.0 312.3,298.7 L313.7,301.3 Q315.0,304.0 314.7,307.0 L311.3,348.0 Q311.0,351.0 309.2,353.4 L304.0,360.0" fill="none" stroke="#000" stroke-width="5.8" stroke-linejoin="round"/>
<path d="M300.0,290.0 L308.4,294.6 Q311.0,296.0 312.3,298.7 L313.7,301.3 Q315.0,304.0 314.7,307.0 L311.3,348.0 Q311.0,351.0 309.2,353.4 L304.0,360.0" fill="none" stroke="#fff" stroke-width="2.6" stroke-linejoin="round"/>
<path d="M254.0,308.0 L278.0,351.0" fill="none" stroke="#000" stroke-width="9.0" stroke-linejoin="round"/>
<path d="M254.0,308.0 L278.0,351.0" fill="none" stroke="#fff" stroke-width="6.4" stroke-linejoin="round"/>
<path d="M254.0,308.0 L278.0,351.0" fill="none" stroke="#000" stroke-width="6.4" stroke-dasharray="2.4 1.1" stroke-linejoin="round"/>
<path d="M254.0,308.0 L278.0,351.0" fill="none" stroke="#fff" stroke-width="1.8" stroke-dasharray="0.01 3.5" stroke-dashoffset="1.2" stroke-linecap="round" stroke-linejoin="round"/>
<path d="M269.0,298.0 L291.0,348.0" fill="none" stroke="#000" stroke-width="9.0" stroke-linejoin="round"/>
<path d="M269.0,298.0 L291.0,348.0" fill="none" stroke="#fff" stroke-width="6.4" stroke-linejoin="round"/>
<path d="M269.0,298.0 L291.0,348.0" fill="none" stroke="#000" stroke-width="6.4" stroke-dasharray="2.4 1.1" stroke-linejoin="round"/>
<path d="M269.0,298.0 L291.0,348.0" fill="none" stroke="#fff" stroke-width="1.8" stroke-dasharray="0.01 3.5" stroke-dashoffset="1.2" stroke-linecap="round" stroke-linejoin="round"/>
<g transform="translate(254,307) rotate(-28)"><rect x="-5.0" y="-3.5" width="10" height="7" rx="1.5" stroke="#000" fill="#fff" stroke-width="1.6"/><line x1="-5.0" y1="0" x2="5.0" y2="0" stroke="#000" stroke-width="1.1"/></g>
<g transform="translate(268,297) rotate(-25)"><rect x="-5.0" y="-3.5" width="10" height="7" rx="1.5" stroke="#000" fill="#fff" stroke-width="1.6"/><line x1="-5.0" y1="0" x2="5.0" y2="0" stroke="#000" stroke-width="1.1"/></g>
<g transform="translate(278,351) rotate(-28)"><rect x="-5.0" y="-3.5" width="10" height="7" rx="1.5" stroke="#000" fill="#fff" stroke-width="1.6"/><line x1="-5.0" y1="0" x2="5.0" y2="0" stroke="#000" stroke-width="1.1"/></g>
<g transform="translate(291,348) rotate(-25)"><rect x="-5.0" y="-3.5" width="10" height="7" rx="1.5" stroke="#000" fill="#fff" stroke-width="1.6"/><line x1="-5.0" y1="0" x2="5.0" y2="0" stroke="#000" stroke-width="1.1"/></g>
<path d="M131.0,279.0 L131.8,297.2 Q132.0,303.0 130.0,308.5 L129.5,309.7 Q128.0,314.0 123.5,314.5 L123.5,314.5 Q119.0,315.0 115.6,312.0 L111.0,308.0" fill="none" stroke="#000" stroke-width="9.5" stroke-linejoin="round"/>
<path d="M131.0,279.0 L131.8,297.2 Q132.0,303.0 130.0,308.5 L129.5,309.7 Q128.0,314.0 123.5,314.5 L123.5,314.5 Q119.0,315.0 115.6,312.0 L111.0,308.0" fill="none" stroke="#fff" stroke-width="6.8" stroke-linejoin="round"/>
<path d="M131.0,279.0 L131.8,297.2 Q132.0,303.0 130.0,308.5 L129.5,309.7 Q128.0,314.0 123.5,314.5 L123.5,314.5 Q119.0,315.0 115.6,312.0 L111.0,308.0" fill="none" stroke="#000" stroke-width="5.3" stroke-dasharray="0.7 5.3" stroke-dashoffset="1" stroke-linejoin="round" opacity="0.55"/>
<path d="M96.0,298.0 L87.0,297.4 Q82.0,297.0 79.0,301.0 L79.0,301.0 Q76.0,305.0 76.5,310.0 L77.4,318.0 Q78.0,324.0 79.6,329.8 L83.0,342.0" fill="none" stroke="#000" stroke-width="9.5" stroke-linejoin="round"/>
<path d="M96.0,298.0 L87.0,297.4 Q82.0,297.0 79.0,301.0 L79.0,301.0 Q76.0,305.0 76.5,310.0 L77.4,318.0 Q78.0,324.0 79.6,329.8 L83.0,342.0" fill="none" stroke="#fff" stroke-width="6.8" stroke-linejoin="round"/>
<path d="M96.0,298.0 L87.0,297.4 Q82.0,297.0 79.0,301.0 L79.0,301.0 Q76.0,305.0 76.5,310.0 L77.4,318.0 Q78.0,324.0 79.6,329.8 L83.0,342.0" fill="none" stroke="#000" stroke-width="5.3" stroke-dasharray="0.7 5.3" stroke-dashoffset="1" stroke-linejoin="round" opacity="0.55"/>
<path d="M747.0,93.0 L745.5,97.5 Q744.0,102.0 743.5,106.7 L741.6,124.0 Q741.0,130.0 740.2,135.9 L739.7,139.9 Q739.0,145.0 741.5,149.5 L741.5,149.5 Q744.0,154.0 749.1,154.4 L751.0,154.5 Q757.0,155.0 761.5,151.0 L766.0,147.0" fill="none" stroke="#000" stroke-width="9.5" stroke-linejoin="round"/>
<path d="M747.0,93.0 L745.5,97.5 Q744.0,102.0 743.5,106.7 L741.6,124.0 Q741.0,130.0 740.2,135.9 L739.7,139.9 Q739.0,145.0 741.5,149.5 L741.5,149.5 Q744.0,154.0 749.1,154.4 L751.0,154.5 Q757.0,155.0 761.5,151.0 L766.0,147.0" fill="none" stroke="#fff" stroke-width="6.8" stroke-linejoin="round"/>
<path d="M747.0,93.0 L745.5,97.5 Q744.0,102.0 743.5,106.7 L741.6,124.0 Q741.0,130.0 740.2,135.9 L739.7,139.9 Q739.0,145.0 741.5,149.5 L741.5,149.5 Q744.0,154.0 749.1,154.4 L751.0,154.5 Q757.0,155.0 761.5,151.0 L766.0,147.0" fill="none" stroke="#000" stroke-width="5.3" stroke-dasharray="0.7 5.3" stroke-dashoffset="1" stroke-linejoin="round" opacity="0.55"/>
<path d="M880.0,60.0 L885.6,56.2 Q889.0,54.0 892.5,56.0 L892.5,56.0 Q896.0,58.0 896.8,61.9 L897.7,66.1 Q899.0,72.0 897.1,77.7 L895.4,82.9 Q894.0,87.0 892.5,91.0 L891.0,95.0" fill="none" stroke="#000" stroke-width="9.5" stroke-linejoin="round"/>
<path d="M880.0,60.0 L885.6,56.2 Q889.0,54.0 892.5,56.0 L892.5,56.0 Q896.0,58.0 896.8,61.9 L897.7,66.1 Q899.0,72.0 897.1,77.7 L895.4,82.9 Q894.0,87.0 892.5,91.0 L891.0,95.0" fill="none" stroke="#fff" stroke-width="6.8" stroke-linejoin="round"/>
<path d="M880.0,60.0 L885.6,56.2 Q889.0,54.0 892.5,56.0 L892.5,56.0 Q896.0,58.0 896.8,61.9 L897.7,66.1 Q899.0,72.0 897.1,77.7 L895.4,82.9 Q894.0,87.0 892.5,91.0 L891.0,95.0" fill="none" stroke="#000" stroke-width="5.3" stroke-dasharray="0.7 5.3" stroke-dashoffset="1" stroke-linejoin="round" opacity="0.55"/>
<path d="M883.0,348.0 L882.2,369.0 Q882.0,375.0 879.4,380.4 L873.6,392.6 Q871.0,398.0 871.5,404.0 L871.6,405.5 Q872.0,410.0 876.0,412.0 L876.0,412.0 Q880.0,414.0 884.2,412.5 L891.0,410.0" fill="none" stroke="#000" stroke-width="9.5" stroke-linejoin="round"/>
<path d="M883.0,348.0 L882.2,369.0 Q882.0,375.0 879.4,380.4 L873.6,392.6 Q871.0,398.0 871.5,404.0 L871.6,405.5 Q872.0,410.0 876.0,412.0 L876.0,412.0 Q880.0,414.0 884.2,412.5 L891.0,410.0" fill="none" stroke="#fff" stroke-width="6.8" stroke-linejoin="round"/>
<path d="M883.0,348.0 L882.2,369.0 Q882.0,375.0 879.4,380.4 L873.6,392.6 Q871.0,398.0 871.5,404.0 L871.6,405.5 Q872.0,410.0 876.0,412.0 L876.0,412.0 Q880.0,414.0 884.2,412.5 L891.0,410.0" fill="none" stroke="#000" stroke-width="5.3" stroke-dasharray="0.7 5.3" stroke-dashoffset="1" stroke-linejoin="round" opacity="0.55"/>
<path d="M1032.0,331.0 L1042.2,327.4 Q1046.0,326.0 1049.5,328.0 L1049.5,328.0 Q1053.0,330.0 1053.8,334.0 L1054.0,335.0 Q1055.0,340.0 1053.3,344.8 L1047.0,362.0" fill="none" stroke="#000" stroke-width="9.5" stroke-linejoin="round"/>
<path d="M1032.0,331.0 L1042.2,327.4 Q1046.0,326.0 1049.5,328.0 L1049.5,328.0 Q1053.0,330.0 1053.8,334.0 L1054.0,335.0 Q1055.0,340.0 1053.3,344.8 L1047.0,362.0" fill="none" stroke="#fff" stroke-width="6.8" stroke-linejoin="round"/>
<path d="M1032.0,331.0 L1042.2,327.4 Q1046.0,326.0 1049.5,328.0 L1049.5,328.0 Q1053.0,330.0 1053.8,334.0 L1054.0,335.0 Q1055.0,340.0 1053.3,344.8 L1047.0,362.0" fill="none" stroke="#000" stroke-width="5.3" stroke-dasharray="0.7 5.3" stroke-dashoffset="1" stroke-linejoin="round" opacity="0.55"/>
<path d="M420.0,392.0 L419.2,422.0 Q419.0,428.0 422.0,433.2 L423.0,434.8 Q426.0,440.0 432.0,440.0 L440.0,440.0" fill="none" stroke="#000" stroke-width="9.5" stroke-linejoin="round"/>
<path d="M420.0,392.0 L419.2,422.0 Q419.0,428.0 422.0,433.2 L423.0,434.8 Q426.0,440.0 432.0,440.0 L440.0,440.0" fill="none" stroke="#fff" stroke-width="6.8" stroke-linejoin="round"/>
<path d="M420.0,392.0 L419.2,422.0 Q419.0,428.0 422.0,433.2 L423.0,434.8 Q426.0,440.0 432.0,440.0 L440.0,440.0" fill="none" stroke="#000" stroke-width="5.3" stroke-dasharray="0.7 5.3" stroke-dashoffset="1" stroke-linejoin="round" opacity="0.55"/>
<path d="M451.0,449.0 L455.6,452.6 Q460.0,456.0 460.8,461.5 L460.8,461.5 Q461.5,467.0 458.5,471.6 L455.9,475.6 Q453.0,480.0 451.5,485.0 L450.0,490.0" fill="none" stroke="#000" stroke-width="9.5" stroke-linejoin="round"/>
<path d="M451.0,449.0 L455.6,452.6 Q460.0,456.0 460.8,461.5 L460.8,461.5 Q461.5,467.0 458.5,471.6 L455.9,475.6 Q453.0,480.0 451.5,485.0 L450.0,490.0" fill="none" stroke="#fff" stroke-width="6.8" stroke-linejoin="round"/>
<path d="M451.0,449.0 L455.6,452.6 Q460.0,456.0 460.8,461.5 L460.8,461.5 Q461.5,467.0 458.5,471.6 L455.9,475.6 Q453.0,480.0 451.5,485.0 L450.0,490.0" fill="none" stroke="#000" stroke-width="5.3" stroke-dasharray="0.7 5.3" stroke-dashoffset="1" stroke-linejoin="round" opacity="0.55"/>
<g transform="translate(186,191) rotate(0)"><rect x="-3.875" y="7.727999999999999" width="7.75" height="10.672" rx="1" stroke="#000" fill="#fff" stroke-width="1.6"/><line x1="-3.875" y1="10.4" x2="3.875" y2="10.4" stroke="#000" stroke-width="1.3"/><line x1="-3.875" y1="13.1" x2="3.875" y2="13.1" stroke="#000" stroke-width="1.3"/><line x1="-3.875" y1="15.7" x2="3.875" y2="15.7" stroke="#000" stroke-width="1.3"/><path d="M-6.25,1 L-4.75,0 L4.75,0 L6.25,1 L6.25,6.727999999999999 L4.75,7.727999999999999 L-4.75,7.727999999999999 L-6.25,6.727999999999999 Z" stroke="#000" fill="#fff" stroke-width="1.7"/><line x1="-2.2" y1="0.5" x2="-2.2" y2="7.227999999999999" stroke="#000" stroke-width="1.1"/><line x1="2.2" y1="0.5" x2="2.2" y2="7.227999999999999" stroke="#000" stroke-width="1.1"/></g>
<g transform="translate(637,25) rotate(0)"><rect x="-3.1" y="6.3" width="6.2" height="8.7" rx="1" stroke="#000" fill="#fff" stroke-width="1.6"/><line x1="-3.1" y1="8.5" x2="3.1" y2="8.5" stroke="#000" stroke-width="1.3"/><line x1="-3.1" y1="10.6" x2="3.1" y2="10.6" stroke="#000" stroke-width="1.3"/><line x1="-3.1" y1="12.8" x2="3.1" y2="12.8" stroke="#000" stroke-width="1.3"/><path d="M-5.0,1 L-3.5,0 L3.5,0 L5.0,1 L5.0,5.3 L3.5,6.3 L-3.5,6.3 L-5.0,5.3 Z" stroke="#000" fill="#fff" stroke-width="1.7"/><line x1="-1.8" y1="0.5" x2="-1.8" y2="5.8" stroke="#000" stroke-width="1.1"/><line x1="1.8" y1="0.5" x2="1.8" y2="5.8" stroke="#000" stroke-width="1.1"/></g>
<g transform="translate(334,277) rotate(0)"><rect x="-3.1" y="6.72" width="6.2" height="9.280000000000001" rx="1" stroke="#000" fill="#fff" stroke-width="1.6"/><line x1="-3.1" y1="9.0" x2="3.1" y2="9.0" stroke="#000" stroke-width="1.3"/><line x1="-3.1" y1="11.4" x2="3.1" y2="11.4" stroke="#000" stroke-width="1.3"/><line x1="-3.1" y1="13.7" x2="3.1" y2="13.7" stroke="#000" stroke-width="1.3"/><path d="M-5.0,1 L-3.5,0 L3.5,0 L5.0,1 L5.0,5.72 L3.5,6.72 L-3.5,6.72 L-5.0,5.72 Z" stroke="#000" fill="#fff" stroke-width="1.7"/><line x1="-1.8" y1="0.5" x2="-1.8" y2="6.22" stroke="#000" stroke-width="1.1"/><line x1="1.8" y1="0.5" x2="1.8" y2="6.22" stroke="#000" stroke-width="1.1"/></g>
<g transform="translate(348,284) rotate(0)"><rect x="-3.1" y="6.72" width="6.2" height="9.280000000000001" rx="1" stroke="#000" fill="#fff" stroke-width="1.6"/><line x1="-3.1" y1="9.0" x2="3.1" y2="9.0" stroke="#000" stroke-width="1.3"/><line x1="-3.1" y1="11.4" x2="3.1" y2="11.4" stroke="#000" stroke-width="1.3"/><line x1="-3.1" y1="13.7" x2="3.1" y2="13.7" stroke="#000" stroke-width="1.3"/><path d="M-5.0,1 L-3.5,0 L3.5,0 L5.0,1 L5.0,5.72 L3.5,6.72 L-3.5,6.72 L-5.0,5.72 Z" stroke="#000" fill="#fff" stroke-width="1.7"/><line x1="-1.8" y1="0.5" x2="-1.8" y2="6.22" stroke="#000" stroke-width="1.1"/><line x1="1.8" y1="0.5" x2="1.8" y2="6.22" stroke="#000" stroke-width="1.1"/></g>
<g transform="translate(364,290) rotate(0)"><rect x="-3.1" y="6.72" width="6.2" height="9.280000000000001" rx="1" stroke="#000" fill="#fff" stroke-width="1.6"/><line x1="-3.1" y1="9.0" x2="3.1" y2="9.0" stroke="#000" stroke-width="1.3"/><line x1="-3.1" y1="11.4" x2="3.1" y2="11.4" stroke="#000" stroke-width="1.3"/><line x1="-3.1" y1="13.7" x2="3.1" y2="13.7" stroke="#000" stroke-width="1.3"/><path d="M-5.0,1 L-3.5,0 L3.5,0 L5.0,1 L5.0,5.72 L3.5,6.72 L-3.5,6.72 L-5.0,5.72 Z" stroke="#000" fill="#fff" stroke-width="1.7"/><line x1="-1.8" y1="0.5" x2="-1.8" y2="6.22" stroke="#000" stroke-width="1.1"/><line x1="1.8" y1="0.5" x2="1.8" y2="6.22" stroke="#000" stroke-width="1.1"/></g>
<g transform="translate(377,296) rotate(0)"><rect x="-3.1" y="6.72" width="6.2" height="9.280000000000001" rx="1" stroke="#000" fill="#fff" stroke-width="1.6"/><line x1="-3.1" y1="9.0" x2="3.1" y2="9.0" stroke="#000" stroke-width="1.3"/><line x1="-3.1" y1="11.4" x2="3.1" y2="11.4" stroke="#000" stroke-width="1.3"/><line x1="-3.1" y1="13.7" x2="3.1" y2="13.7" stroke="#000" stroke-width="1.3"/><path d="M-5.0,1 L-3.5,0 L3.5,0 L5.0,1 L5.0,5.72 L3.5,6.72 L-3.5,6.72 L-5.0,5.72 Z" stroke="#000" fill="#fff" stroke-width="1.7"/><line x1="-1.8" y1="0.5" x2="-1.8" y2="6.22" stroke="#000" stroke-width="1.1"/><line x1="1.8" y1="0.5" x2="1.8" y2="6.22" stroke="#000" stroke-width="1.1"/></g>
<g transform="translate(418,340) rotate(0)"><rect x="-3.255" y="7.14" width="6.51" height="9.86" rx="1" stroke="#000" fill="#fff" stroke-width="1.6"/><line x1="-3.255" y1="9.6" x2="3.255" y2="9.6" stroke="#000" stroke-width="1.3"/><line x1="-3.255" y1="12.1" x2="3.255" y2="12.1" stroke="#000" stroke-width="1.3"/><line x1="-3.255" y1="14.5" x2="3.255" y2="14.5" stroke="#000" stroke-width="1.3"/><path d="M-5.25,1 L-3.75,0 L3.75,0 L5.25,1 L5.25,6.14 L3.75,7.14 L-3.75,7.14 L-5.25,6.14 Z" stroke="#000" fill="#fff" stroke-width="1.7"/><line x1="-1.9" y1="0.5" x2="-1.9" y2="6.64" stroke="#000" stroke-width="1.1"/><line x1="1.9" y1="0.5" x2="1.9" y2="6.64" stroke="#000" stroke-width="1.1"/></g>
<g transform="translate(972,162) rotate(0)"><rect x="-2.945" y="7.9799999999999995" width="5.89" height="11.02" rx="1" stroke="#000" fill="#fff" stroke-width="1.6"/><line x1="-2.945" y1="10.7" x2="2.945" y2="10.7" stroke="#000" stroke-width="1.3"/><line x1="-2.945" y1="13.5" x2="2.945" y2="13.5" stroke="#000" stroke-width="1.3"/><line x1="-2.945" y1="16.2" x2="2.945" y2="16.2" stroke="#000" stroke-width="1.3"/><path d="M-4.75,1 L-3.25,0 L3.25,0 L4.75,1 L4.75,6.9799999999999995 L3.25,7.9799999999999995 L-3.25,7.9799999999999995 L-4.75,6.9799999999999995 Z" stroke="#000" fill="#fff" stroke-width="1.7"/><line x1="-1.7" y1="0.5" x2="-1.7" y2="7.4799999999999995" stroke="#000" stroke-width="1.1"/><line x1="1.7" y1="0.5" x2="1.7" y2="7.4799999999999995" stroke="#000" stroke-width="1.1"/></g>
<g transform="translate(131,256) rotate(0)"><rect x="-6.1499999999999995" y="0" width="12.299999999999999" height="9.230769230769232" rx="2.5" stroke="#000" fill="#fff" stroke-width="1.6"/><ellipse cx="0" cy="2.871794871794872" rx="4.050000000000001" ry="2.256410256410257" stroke="#000" fill="#fff" stroke-width="1.2"/><rect x="-7.5" y="8.205128205128206" width="15" height="7.692307692307693" rx="3" stroke="#000" fill="#fff" stroke-width="1.7"/><line x1="-6.75" y1="11.794871794871796" x2="6.75" y2="11.794871794871796" stroke="#000" stroke-width="1.1"/><rect x="-5.55" y="15.8974358974359" width="11.1" height="4.0" rx="1.5" stroke="#000" fill="#fff" stroke-width="1.5"/><rect x="-5.55" y="19.897435897435898" width="11.1" height="4.0" rx="1.5" stroke="#000" fill="#fff" stroke-width="1.5"/></g>
<g transform="translate(747,73) rotate(0)"><rect x="-6.1499999999999995" y="0" width="12.299999999999999" height="8.461538461538462" rx="2.5" stroke="#000" fill="#fff" stroke-width="1.6"/><ellipse cx="0" cy="2.6324786324786325" rx="4.050000000000001" ry="2.0683760683760686" stroke="#000" fill="#fff" stroke-width="1.2"/><rect x="-7.5" y="7.521367521367522" width="15" height="7.051282051282052" rx="3" stroke="#000" fill="#fff" stroke-width="1.7"/><line x1="-6.75" y1="10.811965811965813" x2="6.75" y2="10.811965811965813" stroke="#000" stroke-width="1.1"/><rect x="-5.55" y="14.572649572649574" width="11.1" height="3.666666666666667" rx="1.5" stroke="#000" fill="#fff" stroke-width="1.5"/><rect x="-5.55" y="18.23931623931624" width="11.1" height="3.666666666666667" rx="1.5" stroke="#000" fill="#fff" stroke-width="1.5"/></g>
<g transform="translate(884,327) rotate(0)"><rect x="-6.56" y="0" width="13.12" height="8.461538461538462" rx="2.5" stroke="#000" fill="#fff" stroke-width="1.6"/><ellipse cx="0" cy="2.6324786324786325" rx="4.32" ry="2.0683760683760686" stroke="#000" fill="#fff" stroke-width="1.2"/><rect x="-8.0" y="7.521367521367522" width="16" height="7.051282051282052" rx="3" stroke="#000" fill="#fff" stroke-width="1.7"/><line x1="-7.2" y1="10.811965811965813" x2="7.2" y2="10.811965811965813" stroke="#000" stroke-width="1.1"/><rect x="-5.92" y="14.572649572649574" width="11.84" height="3.666666666666667" rx="1.5" stroke="#000" fill="#fff" stroke-width="1.5"/><rect x="-5.92" y="18.23931623931624" width="11.84" height="3.666666666666667" rx="1.5" stroke="#000" fill="#fff" stroke-width="1.5"/></g>
<g transform="translate(420,370) rotate(0)"><rect x="-6.683" y="0" width="13.366" height="9.0" rx="2.5" stroke="#000" fill="#fff" stroke-width="1.6"/><ellipse cx="0" cy="2.8" rx="4.401000000000001" ry="2.2" stroke="#000" fill="#fff" stroke-width="1.2"/><rect x="-8.15" y="8.0" width="16.3" height="7.5" rx="3" stroke="#000" fill="#fff" stroke-width="1.7"/><line x1="-7.335000000000001" y1="11.5" x2="7.335000000000001" y2="11.5" stroke="#000" stroke-width="1.1"/><rect x="-6.031000000000001" y="15.5" width="12.062000000000001" height="3.9" rx="1.5" stroke="#000" fill="#fff" stroke-width="1.5"/><rect x="-6.031000000000001" y="19.4" width="12.062000000000001" height="3.9" rx="1.5" stroke="#000" fill="#fff" stroke-width="1.5"/></g>
<g transform="translate(85,340) rotate(0)"><rect x="-5.125" y="0" width="10.25" height="5.1923076923076925" rx="2.5" stroke="#000" fill="#fff" stroke-width="1.6"/><ellipse cx="0" cy="1.6153846153846154" rx="3.375" ry="1.2692307692307694" stroke="#000" fill="#fff" stroke-width="1.2"/><rect x="-6.25" y="4.615384615384616" width="12.5" height="4.3269230769230775" rx="3" stroke="#000" fill="#fff" stroke-width="1.7"/><line x1="-5.625" y1="6.634615384615385" x2="5.625" y2="6.634615384615385" stroke="#000" stroke-width="1.1"/><rect x="-4.625" y="8.942307692307693" width="9.25" height="2.25" rx="1.5" stroke="#000" fill="#fff" stroke-width="1.5"/><rect x="-4.625" y="11.192307692307693" width="9.25" height="2.25" rx="1.5" stroke="#000" fill="#fff" stroke-width="1.5"/></g>
<g transform="translate(891,94) rotate(0)"><rect x="-5.125" y="0" width="10.25" height="5.0" rx="2.5" stroke="#000" fill="#fff" stroke-width="1.6"/><ellipse cx="0" cy="1.5555555555555556" rx="3.375" ry="1.2222222222222223" stroke="#000" fill="#fff" stroke-width="1.2"/><rect x="-6.25" y="4.444444444444445" width="12.5" height="4.166666666666667" rx="3" stroke="#000" fill="#fff" stroke-width="1.7"/><line x1="-5.625" y1="6.388888888888889" x2="5.625" y2="6.388888888888889" stroke="#000" stroke-width="1.1"/><rect x="-4.625" y="8.61111111111111" width="9.25" height="2.1666666666666665" rx="1.5" stroke="#000" fill="#fff" stroke-width="1.5"/><rect x="-4.625" y="10.777777777777777" width="9.25" height="2.1666666666666665" rx="1.5" stroke="#000" fill="#fff" stroke-width="1.5"/></g>
<g transform="translate(1047,359) rotate(0)"><rect x="-4.92" y="0" width="9.84" height="5.0" rx="2.5" stroke="#000" fill="#fff" stroke-width="1.6"/><ellipse cx="0" cy="1.5555555555555556" rx="3.24" ry="1.2222222222222223" stroke="#000" fill="#fff" stroke-width="1.2"/><rect x="-6.0" y="4.444444444444445" width="12" height="4.166666666666667" rx="3" stroke="#000" fill="#fff" stroke-width="1.7"/><line x1="-5.4" y1="6.388888888888889" x2="5.4" y2="6.388888888888889" stroke="#000" stroke-width="1.1"/><rect x="-4.4399999999999995" y="8.61111111111111" width="8.879999999999999" height="2.1666666666666665" rx="1.5" stroke="#000" fill="#fff" stroke-width="1.5"/><rect x="-4.4399999999999995" y="10.777777777777777" width="8.879999999999999" height="2.1666666666666665" rx="1.5" stroke="#000" fill="#fff" stroke-width="1.5"/></g>
<g transform="translate(450,488.5) rotate(0)"><rect x="-5.084" y="0" width="10.168" height="5.653846153846153" rx="2.5" stroke="#000" fill="#fff" stroke-width="1.6"/><ellipse cx="0" cy="1.7589743589743587" rx="3.3480000000000003" ry="1.3820512820512822" stroke="#000" fill="#fff" stroke-width="1.2"/><rect x="-6.2" y="5.0256410256410255" width="12.4" height="4.711538461538462" rx="3" stroke="#000" fill="#fff" stroke-width="1.7"/><line x1="-5.58" y1="7.2243589743589745" x2="5.58" y2="7.2243589743589745" stroke="#000" stroke-width="1.1"/><rect x="-4.588" y="9.737179487179487" width="9.176" height="2.4499999999999997" rx="1.5" stroke="#000" fill="#fff" stroke-width="1.5"/><rect x="-4.588" y="12.187179487179487" width="9.176" height="2.4499999999999997" rx="1.5" stroke="#000" fill="#fff" stroke-width="1.5"/></g>
<rect x="82" y="354" width="6" height="8" fill="#fff" stroke="#000" stroke-width="1.4"/>
<g transform="translate(85,366) rotate(-18)"><ellipse cx="-2" cy="0.8" rx="6.8" ry="7.8" stroke="#000" fill="#fff" stroke-width="1.9"/><rect x="-2" y="-7.0" width="4" height="15.6" fill="#fff"/><ellipse cx="2" cy="0" rx="6.8" ry="7.8" stroke="#000" fill="#fff" stroke-width="2"/><line x1="-2" y1="-7.0" x2="2" y2="-7.8" stroke="#000" stroke-width="1.8"/><line x1="-2" y1="8.6" x2="2" y2="7.8" stroke="#000" stroke-width="1.8"/><ellipse cx="2.5" cy="0" rx="2.72" ry="3.9" stroke="#000" fill="#fff" stroke-width="1.6"/></g>
<rect x="888" y="104" width="6" height="8" fill="#fff" stroke="#000" stroke-width="1.4"/>
<g transform="translate(891,116) rotate(-18)"><ellipse cx="-2" cy="0.8" rx="6.8" ry="7.8" stroke="#000" fill="#fff" stroke-width="1.9"/><rect x="-2" y="-7.0" width="4" height="15.6" fill="#fff"/><ellipse cx="2" cy="0" rx="6.8" ry="7.8" stroke="#000" fill="#fff" stroke-width="2"/><line x1="-2" y1="-7.0" x2="2" y2="-7.8" stroke="#000" stroke-width="1.8"/><line x1="-2" y1="8.6" x2="2" y2="7.8" stroke="#000" stroke-width="1.8"/><ellipse cx="2.5" cy="0" rx="2.72" ry="3.9" stroke="#000" fill="#fff" stroke-width="1.6"/></g>
<rect x="1042" y="370" width="6" height="8" fill="#fff" stroke="#000" stroke-width="1.4"/>
<g transform="translate(1045,382) rotate(-18)"><ellipse cx="-2" cy="0.8" rx="6.8" ry="7.8" stroke="#000" fill="#fff" stroke-width="1.9"/><rect x="-2" y="-7.0" width="4" height="15.6" fill="#fff"/><ellipse cx="2" cy="0" rx="6.8" ry="7.8" stroke="#000" fill="#fff" stroke-width="2"/><line x1="-2" y1="-7.0" x2="2" y2="-7.8" stroke="#000" stroke-width="1.8"/><line x1="-2" y1="8.6" x2="2" y2="7.8" stroke="#000" stroke-width="1.8"/><ellipse cx="2.5" cy="0" rx="2.72" ry="3.9" stroke="#000" fill="#fff" stroke-width="1.6"/></g>
<rect x="447" y="499.5" width="6" height="8" fill="#fff" stroke="#000" stroke-width="1.4"/>
<g transform="translate(450,511.5) rotate(-18)"><ellipse cx="-2" cy="0.8" rx="6.8" ry="7.8" stroke="#000" fill="#fff" stroke-width="1.9"/><rect x="-2" y="-7.0" width="4" height="15.6" fill="#fff"/><ellipse cx="2" cy="0" rx="6.8" ry="7.8" stroke="#000" fill="#fff" stroke-width="2"/><line x1="-2" y1="-7.0" x2="2" y2="-7.8" stroke="#000" stroke-width="1.8"/><line x1="-2" y1="8.6" x2="2" y2="7.8" stroke="#000" stroke-width="1.8"/><ellipse cx="2.5" cy="0" rx="2.72" ry="3.9" stroke="#000" fill="#fff" stroke-width="1.6"/></g>
<g transform="translate(66,357) rotate(-18)"><ellipse cx="-2" cy="0.8" rx="5.5" ry="6.5" stroke="#000" fill="#fff" stroke-width="1.9"/><rect x="-2" y="-5.7" width="4" height="13.0" fill="#fff"/><ellipse cx="2" cy="0" rx="5.5" ry="6.5" stroke="#000" fill="#fff" stroke-width="2"/><line x1="-2" y1="-5.7" x2="2" y2="-6.5" stroke="#000" stroke-width="1.8"/><line x1="-2" y1="7.3" x2="2" y2="6.5" stroke="#000" stroke-width="1.8"/><ellipse cx="2.5" cy="0" rx="2.2" ry="3.25" stroke="#000" fill="#fff" stroke-width="1.6"/></g>
<g transform="translate(103,373) rotate(-18)"><ellipse cx="-2" cy="0.8" rx="5.5" ry="6.5" stroke="#000" fill="#fff" stroke-width="1.9"/><rect x="-2" y="-5.7" width="4" height="13.0" fill="#fff"/><ellipse cx="2" cy="0" rx="5.5" ry="6.5" stroke="#000" fill="#fff" stroke-width="2"/><line x1="-2" y1="-5.7" x2="2" y2="-6.5" stroke="#000" stroke-width="1.8"/><line x1="-2" y1="7.3" x2="2" y2="6.5" stroke="#000" stroke-width="1.8"/><ellipse cx="2.5" cy="0" rx="2.2" ry="3.25" stroke="#000" fill="#fff" stroke-width="1.6"/></g>
<g transform="translate(873,107) rotate(-18)"><ellipse cx="-2" cy="0.8" rx="5.5" ry="6.5" stroke="#000" fill="#fff" stroke-width="1.9"/><rect x="-2" y="-5.7" width="4" height="13.0" fill="#fff"/><ellipse cx="2" cy="0" rx="5.5" ry="6.5" stroke="#000" fill="#fff" stroke-width="2"/><line x1="-2" y1="-5.7" x2="2" y2="-6.5" stroke="#000" stroke-width="1.8"/><line x1="-2" y1="7.3" x2="2" y2="6.5" stroke="#000" stroke-width="1.8"/><ellipse cx="2.5" cy="0" rx="2.2" ry="3.25" stroke="#000" fill="#fff" stroke-width="1.6"/></g>
<g transform="translate(907,121) rotate(-18)"><ellipse cx="-2" cy="0.8" rx="5.5" ry="6.5" stroke="#000" fill="#fff" stroke-width="1.9"/><rect x="-2" y="-5.7" width="4" height="13.0" fill="#fff"/><ellipse cx="2" cy="0" rx="5.5" ry="6.5" stroke="#000" fill="#fff" stroke-width="2"/><line x1="-2" y1="-5.7" x2="2" y2="-6.5" stroke="#000" stroke-width="1.8"/><line x1="-2" y1="7.3" x2="2" y2="6.5" stroke="#000" stroke-width="1.8"/><ellipse cx="2.5" cy="0" rx="2.2" ry="3.25" stroke="#000" fill="#fff" stroke-width="1.6"/></g>
<g transform="translate(1027,375) rotate(-18)"><ellipse cx="-2" cy="0.8" rx="5.5" ry="6.5" stroke="#000" fill="#fff" stroke-width="1.9"/><rect x="-2" y="-5.7" width="4" height="13.0" fill="#fff"/><ellipse cx="2" cy="0" rx="5.5" ry="6.5" stroke="#000" fill="#fff" stroke-width="2"/><line x1="-2" y1="-5.7" x2="2" y2="-6.5" stroke="#000" stroke-width="1.8"/><line x1="-2" y1="7.3" x2="2" y2="6.5" stroke="#000" stroke-width="1.8"/><ellipse cx="2.5" cy="0" rx="2.2" ry="3.25" stroke="#000" fill="#fff" stroke-width="1.6"/></g>
<g transform="translate(1062,389) rotate(-18)"><ellipse cx="-2" cy="0.8" rx="5.5" ry="6.5" stroke="#000" fill="#fff" stroke-width="1.9"/><rect x="-2" y="-5.7" width="4" height="13.0" fill="#fff"/><ellipse cx="2" cy="0" rx="5.5" ry="6.5" stroke="#000" fill="#fff" stroke-width="2"/><line x1="-2" y1="-5.7" x2="2" y2="-6.5" stroke="#000" stroke-width="1.8"/><line x1="-2" y1="7.3" x2="2" y2="6.5" stroke="#000" stroke-width="1.8"/><ellipse cx="2.5" cy="0" rx="2.2" ry="3.25" stroke="#000" fill="#fff" stroke-width="1.6"/></g>
<g transform="translate(430,504) rotate(-18)"><ellipse cx="-2" cy="0.8" rx="5.5" ry="6.5" stroke="#000" fill="#fff" stroke-width="1.9"/><rect x="-2" y="-5.7" width="4" height="13.0" fill="#fff"/><ellipse cx="2" cy="0" rx="5.5" ry="6.5" stroke="#000" fill="#fff" stroke-width="2"/><line x1="-2" y1="-5.7" x2="2" y2="-6.5" stroke="#000" stroke-width="1.8"/><line x1="-2" y1="7.3" x2="2" y2="6.5" stroke="#000" stroke-width="1.8"/><ellipse cx="2.5" cy="0" rx="2.2" ry="3.25" stroke="#000" fill="#fff" stroke-width="1.6"/></g>
<g transform="translate(467,519) rotate(-18)"><ellipse cx="-2" cy="0.8" rx="5.5" ry="6.5" stroke="#000" fill="#fff" stroke-width="1.9"/><rect x="-2" y="-5.7" width="4" height="13.0" fill="#fff"/><ellipse cx="2" cy="0" rx="5.5" ry="6.5" stroke="#000" fill="#fff" stroke-width="2"/><line x1="-2" y1="-5.7" x2="2" y2="-6.5" stroke="#000" stroke-width="1.8"/><line x1="-2" y1="7.3" x2="2" y2="6.5" stroke="#000" stroke-width="1.8"/><ellipse cx="2.5" cy="0" rx="2.2" ry="3.25" stroke="#000" fill="#fff" stroke-width="1.6"/></g>
<g transform="translate(881,61) rotate(150)"><rect x="0.0" y="-7.0" width="3.4" height="14" rx="1" stroke="#000" fill="#fff" stroke-width="1.2"/><rect x="2.8" y="-7.0" width="3.4" height="14" rx="1" stroke="#000" fill="#fff" stroke-width="1.2"/><rect x="5.6" y="-7.0" width="3.4" height="14" rx="1" stroke="#000" fill="#fff" stroke-width="1.2"/><rect x="8.4" y="-7.0" width="3.4" height="14" rx="1" stroke="#000" fill="#fff" stroke-width="1.2"/><rect x="11.2" y="-7.0" width="3.4" height="14" rx="1" stroke="#000" fill="#fff" stroke-width="1.2"/><ellipse cx="16" cy="0" rx="3" ry="8.0" stroke="#000" fill="#fff" stroke-width="1.4"/><ellipse cx="17" cy="0" rx="1.6" ry="3.5" stroke="#000" fill="#fff" stroke-width="1.1"/></g>
<g transform="translate(764,149) rotate(-32)"><rect x="0.0" y="-6.5" width="3.4" height="13" rx="1" stroke="#000" fill="#fff" stroke-width="1.2"/><rect x="2.8" y="-6.5" width="3.4" height="13" rx="1" stroke="#000" fill="#fff" stroke-width="1.2"/><rect x="5.5" y="-6.5" width="3.4" height="13" rx="1" stroke="#000" fill="#fff" stroke-width="1.2"/><rect x="8.2" y="-6.5" width="3.4" height="13" rx="1" stroke="#000" fill="#fff" stroke-width="1.2"/><ellipse cx="13" cy="0" rx="3" ry="7.5" stroke="#000" fill="#fff" stroke-width="1.4"/><ellipse cx="14" cy="0" rx="1.6" ry="3.25" stroke="#000" fill="#fff" stroke-width="1.1"/></g>
<g transform="translate(1034,333) rotate(190)"><rect x="0.0" y="-7.0" width="3.4" height="14" rx="1" stroke="#000" fill="#fff" stroke-width="1.2"/><rect x="2.8" y="-7.0" width="3.4" height="14" rx="1" stroke="#000" fill="#fff" stroke-width="1.2"/><rect x="5.5" y="-7.0" width="3.4" height="14" rx="1" stroke="#000" fill="#fff" stroke-width="1.2"/><rect x="8.2" y="-7.0" width="3.4" height="14" rx="1" stroke="#000" fill="#fff" stroke-width="1.2"/><ellipse cx="13" cy="0" rx="3" ry="8.0" stroke="#000" fill="#fff" stroke-width="1.4"/><ellipse cx="14" cy="0" rx="1.6" ry="3.5" stroke="#000" fill="#fff" stroke-width="1.1"/></g>
<g transform="translate(890,410) rotate(-22)"><rect x="0.0" y="-7.0" width="3.4" height="14" rx="1" stroke="#000" fill="#fff" stroke-width="1.2"/><rect x="2.8" y="-7.0" width="3.4" height="14" rx="1" stroke="#000" fill="#fff" stroke-width="1.2"/><rect x="5.5" y="-7.0" width="3.4" height="14" rx="1" stroke="#000" fill="#fff" stroke-width="1.2"/><rect x="8.2" y="-7.0" width="3.4" height="14" rx="1" stroke="#000" fill="#fff" stroke-width="1.2"/><ellipse cx="13" cy="0" rx="3" ry="8.0" stroke="#000" fill="#fff" stroke-width="1.4"/><ellipse cx="14" cy="0" rx="1.6" ry="3.5" stroke="#000" fill="#fff" stroke-width="1.1"/></g>
<g transform="translate(117,312) rotate(200)"><rect x="0.0" y="-5.5" width="3.6" height="11" rx="1" stroke="#000" fill="#fff" stroke-width="1.2"/><rect x="3.0" y="-5.5" width="3.6" height="11" rx="1" stroke="#000" fill="#fff" stroke-width="1.2"/><rect x="6.0" y="-5.5" width="3.6" height="11" rx="1" stroke="#000" fill="#fff" stroke-width="1.2"/><ellipse cx="11" cy="0" rx="3" ry="6.5" stroke="#000" fill="#fff" stroke-width="1.4"/><ellipse cx="12" cy="0" rx="1.6" ry="2.75" stroke="#000" fill="#fff" stroke-width="1.1"/></g>
<g transform="translate(428,443) rotate(-15)"><rect x="0.0" y="-5.5" width="3.6" height="11" rx="1" stroke="#000" fill="#fff" stroke-width="1.2"/><rect x="3.0" y="-5.5" width="3.6" height="11" rx="1" stroke="#000" fill="#fff" stroke-width="1.2"/><rect x="6.0" y="-5.5" width="3.6" height="11" rx="1" stroke="#000" fill="#fff" stroke-width="1.2"/><ellipse cx="11" cy="0" rx="3" ry="6.5" stroke="#000" fill="#fff" stroke-width="1.4"/><ellipse cx="12" cy="0" rx="1.6" ry="2.75" stroke="#000" fill="#fff" stroke-width="1.1"/></g>
<path d="M95,290 q6,-5 12,0 l2,18 q-4,6 -10,3 z" fill="#fff" stroke="#000" stroke-width="1.5"/>
<circle cx="103" cy="297" r="2.2" fill="#fff" stroke="#000" stroke-width="1.1"/>
<path d="M441,432 q6,-5 12,0 l2,18 q-4,6 -10,3 z" fill="#fff" stroke="#000" stroke-width="1.5"/>
<circle cx="448" cy="438" r="2.2" fill="#fff" stroke="#000" stroke-width="1.1"/>
<g transform="translate(828,82) rotate(-25)"><rect x="0" y="-4" width="7" height="8" rx="1" stroke="#000" fill="#fff" stroke-width="1.4"/><rect x="7" y="-3" width="9" height="6" stroke="#000" fill="#fff" stroke-width="1.3"/><line x1="9" y1="-3" x2="9" y2="3" stroke="#000" stroke-width="0.9"/><line x1="11" y1="-3" x2="11" y2="3" stroke="#000" stroke-width="0.9"/><line x1="13" y1="-3" x2="13" y2="3" stroke="#000" stroke-width="0.9"/><line x1="15" y1="-3" x2="15" y2="3" stroke="#000" stroke-width="0.9"/></g>
<g transform="translate(809,130) rotate(155)"><rect x="0" y="-4" width="7" height="8" rx="1" stroke="#000" fill="#fff" stroke-width="1.4"/><rect x="7" y="-3" width="11" height="6" stroke="#000" fill="#fff" stroke-width="1.3"/><line x1="9" y1="-3" x2="9" y2="3" stroke="#000" stroke-width="0.9"/><line x1="11" y1="-3" x2="11" y2="3" stroke="#000" stroke-width="0.9"/><line x1="13" y1="-3" x2="13" y2="3" stroke="#000" stroke-width="0.9"/><line x1="15" y1="-3" x2="15" y2="3" stroke="#000" stroke-width="0.9"/><line x1="17" y1="-3" x2="17" y2="3" stroke="#000" stroke-width="0.9"/></g>
<g transform="translate(941,384) rotate(165)"><rect x="0.0" y="-5.5" width="3.6" height="11" rx="1" stroke="#000" fill="#fff" stroke-width="1.2"/><rect x="3.0" y="-5.5" width="3.6" height="11" rx="1" stroke="#000" fill="#fff" stroke-width="1.2"/><rect x="6.0" y="-5.5" width="3.6" height="11" rx="1" stroke="#000" fill="#fff" stroke-width="1.2"/><ellipse cx="11" cy="0" rx="3" ry="6.5" stroke="#000" fill="#fff" stroke-width="1.4"/><ellipse cx="12" cy="0" rx="1.6" ry="2.75" stroke="#000" fill="#fff" stroke-width="1.1"/></g>
<g transform="translate(992,345) rotate(-12)"><rect x="0" y="-4" width="7" height="8" rx="1" stroke="#000" fill="#fff" stroke-width="1.4"/><rect x="7" y="-3" width="6" height="6" stroke="#000" fill="#fff" stroke-width="1.3"/><line x1="9" y1="-3" x2="9" y2="3" stroke="#000" stroke-width="0.9"/><line x1="11" y1="-3" x2="11" y2="3" stroke="#000" stroke-width="0.9"/></g>
<g transform="translate(299,290) rotate(200)"><rect x="0" y="-4" width="7" height="8" rx="1" stroke="#000" fill="#fff" stroke-width="1.4"/><rect x="7" y="-3" width="10" height="6" stroke="#000" fill="#fff" stroke-width="1.3"/><line x1="9" y1="-3" x2="9" y2="3" stroke="#000" stroke-width="0.9"/><line x1="11" y1="-3" x2="11" y2="3" stroke="#000" stroke-width="0.9"/><line x1="13" y1="-3" x2="13" y2="3" stroke="#000" stroke-width="0.9"/><line x1="15" y1="-3" x2="15" y2="3" stroke="#000" stroke-width="0.9"/></g>
<g transform="translate(302,361) rotate(-25)"><rect x="0" y="-4" width="7" height="8" rx="1" stroke="#000" fill="#fff" stroke-width="1.4"/><rect x="7" y="-3" width="8" height="6" stroke="#000" fill="#fff" stroke-width="1.3"/><line x1="9" y1="-3" x2="9" y2="3" stroke="#000" stroke-width="0.9"/><line x1="11" y1="-3" x2="11" y2="3" stroke="#000" stroke-width="0.9"/><line x1="13" y1="-3" x2="13" y2="3" stroke="#000" stroke-width="0.9"/></g>
<g transform="translate(36,266) rotate(25)"><rect x="12" y="-3.3" width="16" height="6.6" rx="2" stroke="#000" fill="#fff" stroke-width="1.6"/><line x1="16" y1="-3.3" x2="17" y2="3.3" stroke="#000" stroke-width="1.3"/><line x1="19" y1="-3.3" x2="20" y2="3.3" stroke="#000" stroke-width="1.3"/><line x1="22" y1="-3.3" x2="23" y2="3.3" stroke="#000" stroke-width="1.3"/><line x1="25" y1="-3.3" x2="26" y2="3.3" stroke="#000" stroke-width="1.3"/><ellipse cx="10" cy="0" rx="3.8" ry="9.2" stroke="#000" fill="#fff" stroke-width="1.7"/><ellipse cx="11" cy="0" rx="2" ry="6.0" fill="none" stroke="#000" stroke-width="1.1"/><path d="M0,-6.5 L5,-7.5 L9,-6.5 L9,6.5 L5,7.5 L0,6.5 Z" stroke="#000" fill="#fff" stroke-width="1.7"/><line x1="5" y1="-7.0" x2="5" y2="7.0" stroke="#000" stroke-width="1.1"/><ellipse cx="0" cy="0" rx="4" ry="6.7" stroke="#000" fill="#fff" stroke-width="1.7"/></g>
<g transform="translate(157,396) rotate(202)"><rect x="12" y="-3.3" width="17" height="6.6" rx="2" stroke="#000" fill="#fff" stroke-width="1.6"/><line x1="16" y1="-3.3" x2="17" y2="3.3" stroke="#000" stroke-width="1.3"/><line x1="19" y1="-3.3" x2="20" y2="3.3" stroke="#000" stroke-width="1.3"/><line x1="22" y1="-3.3" x2="23" y2="3.3" stroke="#000" stroke-width="1.3"/><line x1="25" y1="-3.3" x2="26" y2="3.3" stroke="#000" stroke-width="1.3"/><line x1="28" y1="-3.3" x2="29" y2="3.3" stroke="#000" stroke-width="1.3"/><ellipse cx="10" cy="0" rx="3.8" ry="9.2" stroke="#000" fill="#fff" stroke-width="1.7"/><ellipse cx="11" cy="0" rx="2" ry="6.0" fill="none" stroke="#000" stroke-width="1.1"/><path d="M0,-6.5 L5,-7.5 L9,-6.5 L9,6.5 L5,7.5 L0,6.5 Z" stroke="#000" fill="#fff" stroke-width="1.7"/><line x1="5" y1="-7.0" x2="5" y2="7.0" stroke="#000" stroke-width="1.1"/><ellipse cx="0" cy="0" rx="4" ry="6.7" stroke="#000" fill="#fff" stroke-width="1.7"/></g>
<g transform="translate(511,460) rotate(199)"><rect x="12" y="-3.3" width="16" height="6.6" rx="2" stroke="#000" fill="#fff" stroke-width="1.6"/><line x1="16" y1="-3.3" x2="17" y2="3.3" stroke="#000" stroke-width="1.3"/><line x1="19" y1="-3.3" x2="20" y2="3.3" stroke="#000" stroke-width="1.3"/><line x1="22" y1="-3.3" x2="23" y2="3.3" stroke="#000" stroke-width="1.3"/><line x1="25" y1="-3.3" x2="26" y2="3.3" stroke="#000" stroke-width="1.3"/><ellipse cx="10" cy="0" rx="3.8" ry="9.2" stroke="#000" fill="#fff" stroke-width="1.7"/><ellipse cx="11" cy="0" rx="2" ry="6.0" fill="none" stroke="#000" stroke-width="1.1"/><path d="M0,-6.5 L5,-7.5 L9,-6.5 L9,6.5 L5,7.5 L0,6.5 Z" stroke="#000" fill="#fff" stroke-width="1.7"/><line x1="5" y1="-7.0" x2="5" y2="7.0" stroke="#000" stroke-width="1.1"/><ellipse cx="0" cy="0" rx="4" ry="6.7" stroke="#000" fill="#fff" stroke-width="1.7"/></g>
<g transform="translate(362,476) rotate(25)"><rect x="12" y="-3.3" width="18" height="6.6" rx="2" stroke="#000" fill="#fff" stroke-width="1.6"/><line x1="16" y1="-3.3" x2="17" y2="3.3" stroke="#000" stroke-width="1.3"/><line x1="19" y1="-3.3" x2="20" y2="3.3" stroke="#000" stroke-width="1.3"/><line x1="22" y1="-3.3" x2="23" y2="3.3" stroke="#000" stroke-width="1.3"/><line x1="25" y1="-3.3" x2="26" y2="3.3" stroke="#000" stroke-width="1.3"/><line x1="28" y1="-3.3" x2="29" y2="3.3" stroke="#000" stroke-width="1.3"/><ellipse cx="10" cy="0" rx="3.8" ry="9.2" stroke="#000" fill="#fff" stroke-width="1.7"/><ellipse cx="11" cy="0" rx="2" ry="6.0" fill="none" stroke="#000" stroke-width="1.1"/><path d="M0,-6.5 L5,-7.5 L9,-6.5 L9,6.5 L5,7.5 L0,6.5 Z" stroke="#000" fill="#fff" stroke-width="1.7"/><line x1="5" y1="-7.0" x2="5" y2="7.0" stroke="#000" stroke-width="1.1"/><ellipse cx="0" cy="0" rx="4" ry="6.7" stroke="#000" fill="#fff" stroke-width="1.7"/></g>
<g transform="translate(958,141) rotate(205)"><rect x="12" y="-3.3" width="16" height="6.6" rx="2" stroke="#000" fill="#fff" stroke-width="1.6"/><line x1="16" y1="-3.3" x2="17" y2="3.3" stroke="#000" stroke-width="1.3"/><line x1="19" y1="-3.3" x2="20" y2="3.3" stroke="#000" stroke-width="1.3"/><line x1="22" y1="-3.3" x2="23" y2="3.3" stroke="#000" stroke-width="1.3"/><line x1="25" y1="-3.3" x2="26" y2="3.3" stroke="#000" stroke-width="1.3"/><ellipse cx="10" cy="0" rx="3.8" ry="9.2" stroke="#000" fill="#fff" stroke-width="1.7"/><ellipse cx="11" cy="0" rx="2" ry="6.0" fill="none" stroke="#000" stroke-width="1.1"/><path d="M0,-6.5 L5,-7.5 L9,-6.5 L9,6.5 L5,7.5 L0,6.5 Z" stroke="#000" fill="#fff" stroke-width="1.7"/><line x1="5" y1="-7.0" x2="5" y2="7.0" stroke="#000" stroke-width="1.1"/><ellipse cx="0" cy="0" rx="4" ry="6.7" stroke="#000" fill="#fff" stroke-width="1.7"/></g>
<g transform="translate(848.5,203.5) rotate(200)"><rect x="12" y="-3.3" width="14" height="6.6" rx="2" stroke="#000" fill="#fff" stroke-width="1.6"/><line x1="16" y1="-3.3" x2="17" y2="3.3" stroke="#000" stroke-width="1.3"/><line x1="19" y1="-3.3" x2="20" y2="3.3" stroke="#000" stroke-width="1.3"/><line x1="22" y1="-3.3" x2="23" y2="3.3" stroke="#000" stroke-width="1.3"/><line x1="25" y1="-3.3" x2="26" y2="3.3" stroke="#000" stroke-width="1.3"/><ellipse cx="10" cy="0" rx="3.8" ry="9.2" stroke="#000" fill="#fff" stroke-width="1.7"/><ellipse cx="11" cy="0" rx="2" ry="6.0" fill="none" stroke="#000" stroke-width="1.1"/><path d="M0,-6.5 L5,-7.5 L9,-6.5 L9,6.5 L5,7.5 L0,6.5 Z" stroke="#000" fill="#fff" stroke-width="1.7"/><line x1="5" y1="-7.0" x2="5" y2="7.0" stroke="#000" stroke-width="1.1"/><ellipse cx="0" cy="0" rx="4" ry="6.7" stroke="#000" fill="#fff" stroke-width="1.7"/></g>
<g transform="translate(963,414) rotate(20)"><rect x="12" y="-3.3" width="20" height="6.6" rx="2" stroke="#000" fill="#fff" stroke-width="1.6"/><line x1="16" y1="-3.3" x2="17" y2="3.3" stroke="#000" stroke-width="1.3"/><line x1="19" y1="-3.3" x2="20" y2="3.3" stroke="#000" stroke-width="1.3"/><line x1="22" y1="-3.3" x2="23" y2="3.3" stroke="#000" stroke-width="1.3"/><line x1="25" y1="-3.3" x2="26" y2="3.3" stroke="#000" stroke-width="1.3"/><line x1="28" y1="-3.3" x2="29" y2="3.3" stroke="#000" stroke-width="1.3"/><line x1="31" y1="-3.3" x2="32" y2="3.3" stroke="#000" stroke-width="1.3"/><ellipse cx="10" cy="0" rx="3.8" ry="9.2" stroke="#000" fill="#fff" stroke-width="1.7"/><ellipse cx="11" cy="0" rx="2" ry="6.0" fill="none" stroke="#000" stroke-width="1.1"/><path d="M0,-6.5 L5,-7.5 L9,-6.5 L9,6.5 L5,7.5 L0,6.5 Z" stroke="#000" fill="#fff" stroke-width="1.7"/><line x1="5" y1="-7.0" x2="5" y2="7.0" stroke="#000" stroke-width="1.1"/><ellipse cx="0" cy="0" rx="4" ry="6.7" stroke="#000" fill="#fff" stroke-width="1.7"/></g>
<g transform="translate(944,483) rotate(18)"><rect x="12" y="-3.3" width="17" height="6.6" rx="2" stroke="#000" fill="#fff" stroke-width="1.6"/><line x1="16" y1="-3.3" x2="17" y2="3.3" stroke="#000" stroke-width="1.3"/><line x1="19" y1="-3.3" x2="20" y2="3.3" stroke="#000" stroke-width="1.3"/><line x1="22" y1="-3.3" x2="23" y2="3.3" stroke="#000" stroke-width="1.3"/><line x1="25" y1="-3.3" x2="26" y2="3.3" stroke="#000" stroke-width="1.3"/><line x1="28" y1="-3.3" x2="29" y2="3.3" stroke="#000" stroke-width="1.3"/><ellipse cx="10" cy="0" rx="3.8" ry="9.2" stroke="#000" fill="#fff" stroke-width="1.7"/><ellipse cx="11" cy="0" rx="2" ry="6.0" fill="none" stroke="#000" stroke-width="1.1"/><path d="M0,-6.5 L5,-7.5 L9,-6.5 L9,6.5 L5,7.5 L0,6.5 Z" stroke="#000" fill="#fff" stroke-width="1.7"/><line x1="5" y1="-7.0" x2="5" y2="7.0" stroke="#000" stroke-width="1.1"/><ellipse cx="0" cy="0" rx="4" ry="6.7" stroke="#000" fill="#fff" stroke-width="1.7"/></g>
<g transform="translate(703.5,35) rotate(0)"><rect x="-3.5" y="0" width="7" height="13" rx="1.5" stroke="#000" fill="#fff" stroke-width="1.5"/><line x1="-3.5" y1="3" x2="3.5" y2="4" stroke="#000" stroke-width="1.2"/><line x1="-3.5" y1="6" x2="3.5" y2="7" stroke="#000" stroke-width="1.2"/><line x1="-3.5" y1="9" x2="3.5" y2="10" stroke="#000" stroke-width="1.2"/><path d="M-6.25,14 L-6.25,22 Q0,24 6.25,22 L6.25,14 Z" stroke="#000" fill="#fff" stroke-width="1.6"/><line x1="-1.5" y1="15" x2="-1.5" y2="23" stroke="#000" stroke-width="1.1"/><line x1="2.8" y1="15" x2="2.8" y2="23" stroke="#000" stroke-width="1.1"/><ellipse cx="0" cy="13.5" rx="8.0" ry="3" stroke="#000" fill="#fff" stroke-width="1.6"/></g>
<g transform="translate(899,229.5) rotate(0)"><rect x="-3.5" y="0" width="7" height="10" rx="1.5" stroke="#000" fill="#fff" stroke-width="1.5"/><line x1="-3.5" y1="3" x2="3.5" y2="4" stroke="#000" stroke-width="1.2"/><line x1="-3.5" y1="6" x2="3.5" y2="7" stroke="#000" stroke-width="1.2"/><path d="M-6.25,11 L-6.25,20 Q0,22 6.25,20 L6.25,11 Z" stroke="#000" fill="#fff" stroke-width="1.6"/><line x1="-1.5" y1="12" x2="-1.5" y2="21" stroke="#000" stroke-width="1.1"/><line x1="2.8" y1="12" x2="2.8" y2="21" stroke="#000" stroke-width="1.1"/><ellipse cx="0" cy="10.5" rx="7.5" ry="3" stroke="#000" fill="#fff" stroke-width="1.6"/></g>
<g transform="translate(160.5,142.5) rotate(0)"><ellipse cx="-3.5" cy="0" rx="6.5" ry="8.8" stroke="#000" fill="#fff" stroke-width="2"/><ellipse cx="-1.2" cy="0" rx="5.5" ry="8.0" fill="none" stroke="#000" stroke-width="1.3"/><ellipse cx="2.0" cy="0" rx="5.6" ry="7.5" stroke="#000" fill="#fff" stroke-width="2"/><ellipse cx="1.5" cy="0" rx="3.3" ry="4.8" stroke="#000" fill="#fff" stroke-width="1.6"/><circle cx="0.6" cy="-1.5" r="0.9" fill="#000"/><circle cx="2.6" cy="-1.5" r="0.9" fill="#000"/><circle cx="0.6" cy="1.8" r="0.9" fill="#000"/><circle cx="2.6" cy="1.8" r="0.9" fill="#000"/></g>
<g transform="translate(537,359.5) rotate(0)"><ellipse cx="-3.0882352941176467" cy="0" rx="5.735294117647059" ry="7.764705882352942" stroke="#000" fill="#fff" stroke-width="2"/><ellipse cx="-1.0588235294117647" cy="0" rx="4.852941176470588" ry="7.0588235294117645" fill="none" stroke="#000" stroke-width="1.3"/><ellipse cx="1.7647058823529411" cy="0" rx="4.941176470588235" ry="6.617647058823529" stroke="#000" fill="#fff" stroke-width="2"/><ellipse cx="1.3235294117647058" cy="0" rx="2.911764705882353" ry="4.235294117647059" stroke="#000" fill="#fff" stroke-width="1.6"/><circle cx="0.5294117647058824" cy="-1.3235294117647058" r="0.7941176470588235" fill="#000"/><circle cx="2.2941176470588234" cy="-1.3235294117647058" r="0.7941176470588235" fill="#000"/><circle cx="0.5294117647058824" cy="1.588235294117647" r="0.7941176470588235" fill="#000"/><circle cx="2.2941176470588234" cy="1.588235294117647" r="0.7941176470588235" fill="#000"/></g>
<path d="M452.9,219.9 L480.8,202.3 L490.7,205.5 L492.7,217.9 L465.9,235.8 L454.9,232.8 Z" fill="#fff" stroke="#000" stroke-width="1.7" stroke-linejoin="round"/><path d="M452.9,219.9 L463.9,223.8 L490.7,205.5 M463.9,223.8 L465.9,235.8" fill="none" stroke="#000" stroke-width="1.4"/><path d="M456,224 L458,231" stroke="#000" stroke-width="1"/><path d="M473.5,229.5 L476,238 L481,239 L485,234 L483.5,224" fill="#fff" stroke="#000" stroke-width="1.4"/><path d="M476,232 l3,1 l3,-2 M476,235 l4,1 l3,-2" fill="none" stroke="#000" stroke-width="1"/><circle cx="470.8" cy="226" r="3.5" fill="#fff" stroke="#000" stroke-width="1.5"/><circle cx="478.6" cy="220.5" r="3.5" fill="#fff" stroke="#000" stroke-width="1.5"/><circle cx="485.6" cy="215.5" r="3.5" fill="#fff" stroke="#000" stroke-width="1.5"/>
<path d="M511.8,249 L514.5,246 Q520,242.5 526,243.5 Q534,245.5 535,254 L534.5,280 L533,281.5 L533,290 L520,292 L515,290 L511.8,288 Z" fill="#fff" stroke="#000" stroke-width="1.7" stroke-linejoin="round"/><path d="M514.5,246 L514.5,290 M515,284 L532,281" fill="none" stroke="#000" stroke-width="1.3"/><path d="M523,253 Q528,250 534,252" fill="none" stroke="#000" stroke-width="1.1"/><rect x="515.5" y="252.5" width="6.5" height="8.5" rx="2.5" fill="#fff" stroke="#000" stroke-width="1.4"/><rect x="515.5" y="262.5" width="6.5" height="8.5" rx="2.5" fill="#fff" stroke="#000" stroke-width="1.4"/><rect x="515.5" y="272.5" width="6.5" height="8.5" rx="2.5" fill="#fff" stroke="#000" stroke-width="1.4"/><path d="M526,266 L529,262.5 L535,263 L539.5,268 L539,274 L534,277 L528,276 L525.5,271 Z" fill="#fff" stroke="#000" stroke-width="1.5" stroke-linejoin="round"/><ellipse cx="531.5" cy="270" rx="4.2" ry="5" fill="#fff" stroke="#000" stroke-width="1.3"/><line x1="528.5" y1="269" x2="534.5" y2="271" stroke="#000" stroke-width="1.2"/>
<path d="M186,298.9 L198.9,294 L203.9,296 L203.9,302 L210.8,304.9 L211.8,323.8 L202.9,327.8 L195.9,333.8 L187,328.8 L183.5,320.8 L184,304.9 Z" fill="#fff" stroke="#000" stroke-width="1.7" stroke-linejoin="round"/><path d="M193,299 L193,304.5 L203.5,305 L210.8,304.9 M203.5,305 L203,327.5 M196.5,306 L196,333.5 M185,304 L196.5,306" fill="none" stroke="#000" stroke-width="1.2"/><rect x="193.5" y="298" width="9" height="6" fill="#fff" stroke="#000" stroke-width="1.3"/><ellipse cx="189.5" cy="312.3" rx="2.6" ry="3.5" fill="#fff" stroke="#000" stroke-width="1.4"/><ellipse cx="190" cy="323.2" rx="2.8" ry="3.5" fill="#fff" stroke="#000" stroke-width="1.4"/><rect x="198" y="309.5" width="3.5" height="15.5" fill="#777" stroke="#000" stroke-width="1"/>
<path d="M222,396 L231.4,391 L232.1,382.3 L240.1,380.1 L244.4,378.7 L249.5,380.8 L250.9,376.5 L256,375.1 L261,378 L262.5,393.1 L259.6,401.1 L247.3,406.2 L243,407.6 L240.1,409.8 L235.7,409.1 L229.9,404.7 L224.2,401.1 Z" fill="#fff" stroke="#000" stroke-width="1.8" stroke-linejoin="round"/><path d="M222.5,396.5 L237,399.5 L243,398.5 L262,390 M237,399.5 L237,409.5 M243,398.5 L243,407.5" fill="none" stroke="#000" stroke-width="1.3"/><path d="M232,383 L236,387 L236,393 L244,394 L247,390 L249.5,381 M236,387 L243,386 L249.5,381" fill="none" stroke="#000" stroke-width="1.3"/><path d="M251,377 q5,1 6,6 l1,8 M253,385 q3,-2 5,1 l-1,5 M251,393 l8,-2" fill="none" stroke="#000" stroke-width="1.3"/><rect x="224" y="396" width="2.5" height="3" fill="#000"/>
<path d="M248,232.4 L268.9,225.1 L284.1,231.6 L283.4,241.8 L276.2,243.9 L275.5,246.8 L266,248.3 L263.9,250.5 L253.7,246.1 L253,243.2 L248.7,241 Z" fill="#fff" stroke="#000" stroke-width="1.7" stroke-linejoin="round"/><path d="M248,232.4 L253.5,236.5 L253.7,246.1 M253.5,236.5 L263.5,239.5 L264,250 M263.5,239.5 L266.5,238 L275.8,238 L276.2,243.9 M275.8,238 L284.1,231.6" fill="none" stroke="#000" stroke-width="1.2"/><path d="M264,236 q-6,1 -7,-2 q1,-3 6,-2 q3,1 1,3 z" fill="#fff" stroke="#000" stroke-width="1.4"/><path d="M267,231 q4,-2 9,0 q2,2 -2,3 q-4,0 -3,2 q4,2 1,3 q-4,0 -6,-2" fill="none" stroke="#000" stroke-width="1.5"/><rect x="249" y="234" width="2" height="6" fill="#666"/>
<path d="M313.1,110 L326.5,102.7 L332.6,101.1 L337.9,114.9 L331.8,117 L331,122.6 L324.5,127.5 L321.3,130.8 L317.2,135.7 L315.2,133.2 L317.2,129.1 L314.8,127.5 L313.1,125.9 Z" fill="#fff" stroke="#000" stroke-width="1.8" stroke-linejoin="round"/><path d="M322.5,106 L322.5,124 M313.5,111 L322.5,106" fill="none" stroke="#000" stroke-width="1.3"/><path d="M315,114 l6,-3 M315,118 l6,-2 M315,122 l6,-2 M316,126 l6,-3 M317,130 l5,-3 M318,133 l4,-3" fill="none" stroke="#000" stroke-width="1.3"/><circle cx="326.1" cy="120.6" r="2.8" fill="#fff" stroke="#000" stroke-width="1.4"/>
<g transform="translate(199,120) scale(1.0)"><path d="M8.7,2.4 L13.4,0 L21.4,1.7 L22.1,6.4 L29.4,9 L29.8,11.7 L27.4,13.7 L30.8,19.7 L29.4,22.4 L21.4,25.1 L13.4,28.4 L8.7,25.8 L8,23.1 L4.7,15.1 L0,11.7 L0,7.7 L4.7,5.7 L8,6 Z" fill="#fff" stroke="#000" stroke-width="1.8" stroke-linejoin="round"/><path d="M9,4 L21.5,6.5 L21,11 L29.5,11.5 M12,6 L12,27 M14,11 L27,12.5 M9,4 L8.7,24" fill="none" stroke="#000" stroke-width="1.3"/><path d="M23,16 q-5,-2 -7,2 q-1,4 2,6 q3,1 5,-1" fill="none" stroke="#000" stroke-width="1.6"/><path d="M2,9 q3,-2 5,0 q1,3 -1,5 q-3,1 -5,-1" fill="none" stroke="#000" stroke-width="1.3"/><path d="M22,19 L29,20 M22,25 L22,19" fill="none" stroke="#000" stroke-width="1.2"/></g>
<g transform="translate(675.5,203) scale(0.78)"><path d="M8.7,2.4 L13.4,0 L21.4,1.7 L22.1,6.4 L29.4,9 L29.8,11.7 L27.4,13.7 L30.8,19.7 L29.4,22.4 L21.4,25.1 L13.4,28.4 L8.7,25.8 L8,23.1 L4.7,15.1 L0,11.7 L0,7.7 L4.7,5.7 L8,6 Z" fill="#fff" stroke="#000" stroke-width="1.8" stroke-linejoin="round"/><path d="M9,4 L21.5,6.5 L21,11 L29.5,11.5 M12,6 L12,27 M14,11 L27,12.5 M9,4 L8.7,24" fill="none" stroke="#000" stroke-width="1.3"/><path d="M23,16 q-5,-2 -7,2 q-1,4 2,6 q3,1 5,-1" fill="none" stroke="#000" stroke-width="1.6"/><path d="M2,9 q3,-2 5,0 q1,3 -1,5 q-3,1 -5,-1" fill="none" stroke="#000" stroke-width="1.3"/><path d="M22,19 L29,20 M22,25 L22,19" fill="none" stroke="#000" stroke-width="1.2"/></g>
<g transform="translate(913,201.5) scale(0.88)"><path d="M8.7,2.4 L13.4,0 L21.4,1.7 L22.1,6.4 L29.4,9 L29.8,11.7 L27.4,13.7 L30.8,19.7 L29.4,22.4 L21.4,25.1 L13.4,28.4 L8.7,25.8 L8,23.1 L4.7,15.1 L0,11.7 L0,7.7 L4.7,5.7 L8,6 Z" fill="#fff" stroke="#000" stroke-width="1.8" stroke-linejoin="round"/><path d="M9,4 L21.5,6.5 L21,11 L29.5,11.5 M12,6 L12,27 M14,11 L27,12.5 M9,4 L8.7,24" fill="none" stroke="#000" stroke-width="1.3"/><path d="M23,16 q-5,-2 -7,2 q-1,4 2,6 q3,1 5,-1" fill="none" stroke="#000" stroke-width="1.6"/><path d="M2,9 q3,-2 5,0 q1,3 -1,5 q-3,1 -5,-1" fill="none" stroke="#000" stroke-width="1.3"/><path d="M22,19 L29,20 M22,25 L22,19" fill="none" stroke="#000" stroke-width="1.2"/></g>
<g transform="translate(707,232) scale(1.0)"><path d="M0,9 L6,6.8 L7.1,2.5 L12.5,0.3 L18.5,0.9 L19.6,4.7 L23.9,7.9 L25,12.3 L23.4,15 L23.9,17.7 L21.7,19.9 L16.9,20.4 L10.4,22 L6.6,19.9 L5.5,15.5 L0,12.3 Z" fill="#fff" stroke="#000" stroke-width="1.8" stroke-linejoin="round"/><path d="M8.2,4 L8.2,21 M12.5,4 L12.5,21 M8.2,4 L12.5,5 L19.6,4.7 M12.5,10 L24,9" fill="none" stroke="#000" stroke-width="1.3"/><path d="M14,13 h4.5 v5 h-4.5 z" fill="#000"/><path d="M3,9.5 q2,0 2,2" fill="none" stroke="#000" stroke-width="1.1"/></g>
<g transform="translate(644,261.5) scale(1.0)"><path d="M0,9 L6,6.8 L7.1,2.5 L12.5,0.3 L18.5,0.9 L19.6,4.7 L23.9,7.9 L25,12.3 L23.4,15 L23.9,17.7 L21.7,19.9 L16.9,20.4 L10.4,22 L6.6,19.9 L5.5,15.5 L0,12.3 Z" fill="#fff" stroke="#000" stroke-width="1.8" stroke-linejoin="round"/><path d="M8.2,4 L8.2,21 M12.5,4 L12.5,21 M8.2,4 L12.5,5 L19.6,4.7 M12.5,10 L24,9" fill="none" stroke="#000" stroke-width="1.3"/><path d="M14,13 h4.5 v5 h-4.5 z" fill="#000"/><path d="M3,9.5 q2,0 2,2" fill="none" stroke="#000" stroke-width="1.1"/></g>
<path d="M696,26 l5,-6 h12 l6,5 l-2,7 l-4,0 l-2,-3 h-10 z" fill="#fff" stroke="#000" stroke-width="1.5"/><ellipse cx="703" cy="26" rx="3" ry="2" fill="#fff" stroke="#000" stroke-width="1.1"/>
<path d="M806,142 L818,148 L820,166 L816,167 L815,181 L818,187 L812,193 L806,190 L803,186 L806.5,179 L805,145 Z" fill="#fff" stroke="#000" stroke-width="1.6" stroke-linejoin="round"/><ellipse cx="812.5" cy="153.5" rx="2.2" ry="3" fill="#fff" stroke="#000" stroke-width="1.3"/><path d="M805,183 L810,180 L823,185 L821,194 L808,191 Z" fill="#fff" stroke="#000" stroke-width="1.4" stroke-linejoin="round"/><path d="M815,182 L813,192 M818,184 L816,193" fill="none" stroke="#000" stroke-width="1.1"/><path d="M803,186 L806,195 L810,197 L814,194 L812,188" fill="#fff" stroke="#000" stroke-width="1.4"/><circle cx="808.5" cy="192" r="1.6" fill="#fff" stroke="#000" stroke-width="1.1"/>
<path d="M892,188 l4,-3 h11 l4,4 l-2,4 v19 l-6,3 v-20 l-6,-1 z" fill="#fff" stroke="#000" stroke-width="1.5"/><ellipse cx="898" cy="189" rx="3" ry="2" fill="#fff" stroke="#000" stroke-width="1.1"/><rect x="905" y="201" width="3" height="5" fill="#fff" stroke="#000" stroke-width="1"/>
<path d="M983.5,494.5 L988,487 L1005,494 L1002,506.5 Z" fill="#fff" stroke="#000" stroke-width="1.5" stroke-linejoin="round"/><ellipse cx="985.5" cy="491" rx="2.5" ry="4.5" transform="rotate(22 985.5 491)" fill="#fff" stroke="#000" stroke-width="1.3"/><path d="M989.6,455.7 L1007.3,458.9 L1008,491.8 L1014.3,495 L1013,503.2 L1005.4,512 L1000.4,510.8 L999.1,503.2 L994,488 L993.4,474.7 L989.6,473.4 Z" fill="#fff" stroke="#000" stroke-width="1.7" stroke-linejoin="round"/><path d="M1003.5,459 L1004,492" fill="none" stroke="#000" stroke-width="1.2"/><ellipse cx="996.9" cy="465.2" rx="3.3" ry="3.8" fill="#fff" stroke="#000" stroke-width="1.4"/><path d="M992,490 L997,486 L1002,500 L997,504 Z" fill="#fff" stroke="#000" stroke-width="1.3"/><circle cx="1009" cy="499" r="2" fill="#fff" stroke="#000" stroke-width="1.2"/><circle cx="1003.5" cy="507" r="2.2" fill="#fff" stroke="#000" stroke-width="1.2"/>
<path d="M335.5,340 L340.5,336.5 L351.5,338.5 L355.7,337 L387,349.5 L387,375.5 L375.5,381.5 L356,391.5 L340,391 L335,370 Z" fill="#fff" stroke="#000" stroke-width="1.5" stroke-linejoin="round"/><path d="M335.5,340 L336,346 L375,359 L387,349.5 M375,359 L375.5,381.5" fill="none" stroke="#000" stroke-width="1.3"/><path d="M352,345 L356,339 M361,349 q4,-4 9,-3 M366,362 q-3,6 0,10 q3,6 -1,14 M370,364 q-3,6 0,10 q3,6 -1,12" fill="none" stroke="#000" stroke-width="1.1"/><circle cx="339.5" cy="357" r="2.6" fill="#fff" stroke="#000" stroke-width="1.2"/><circle cx="354.5" cy="363.5" r="2.6" fill="#fff" stroke="#000" stroke-width="1.2"/><circle cx="346" cy="344" r="1.6" fill="#fff" stroke="#000" stroke-width="1"/><circle cx="353" cy="345.5" r="1.6" fill="#fff" stroke="#000" stroke-width="1"/><circle cx="363" cy="351.5" r="1.6" fill="#fff" stroke="#000" stroke-width="1"/><circle cx="369" cy="353" r="1.6" fill="#fff" stroke="#000" stroke-width="1"/><path d="M340,361 q-2,-5 6,-6 l6,-1 q8,0 8,8 l-2,8" fill="#fff" stroke="#000" stroke-width="1.2"/><ellipse cx="345" cy="371.5" rx="7" ry="10.5" fill="#fff" stroke="#000" stroke-width="1.3"/><path d="M331,369.5 L345,361 L345,382 L331,391.5 Z" fill="#fff"/><path d="M331,370 L345,361 M331,391.2 L345,382" fill="none" stroke="#000" stroke-width="1.4"/><ellipse cx="330.5" cy="380.6" rx="7.2" ry="10.7" fill="#fff" stroke="#000" stroke-width="1.6"/><ellipse cx="331" cy="380.6" rx="5.3" ry="8.2" fill="none" stroke="#000" stroke-width="1.1"/><ellipse cx="329.5" cy="381" rx="2.4" ry="3.6" fill="#fff" stroke="#000" stroke-width="1.2"/>
<g transform="translate(102,258) rotate(0) scale(0.72)"><path d="M0,5.4 L5.4,1.1 L10.9,2.7 L13,4.9 L19.5,3.8 L21.2,4.3 L20.1,9.2 L14.7,11.4 L12,10.3 L8.7,8.1 L1.1,7.6 Z" fill="#fff" stroke="#000" stroke-width="1.7" stroke-linejoin="round"/><path d="M3.3,5.4 L8.7,6.5 L6.5,4.3 M13,4.9 L14.7,11.4" fill="none" stroke="#000" stroke-width="1.3"/></g>
<g transform="translate(717,74) rotate(0) scale(0.82)"><path d="M0,5.4 L5.4,1.1 L10.9,2.7 L13,4.9 L19.5,3.8 L21.2,4.3 L20.1,9.2 L14.7,11.4 L12,10.3 L8.7,8.1 L1.1,7.6 Z" fill="#fff" stroke="#000" stroke-width="1.7" stroke-linejoin="round"/><path d="M3.3,5.4 L8.7,6.5 L6.5,4.3 M13,4.9 L14.7,11.4" fill="none" stroke="#000" stroke-width="1.3"/></g>
<g transform="translate(764,118)"><path d="M0,0 L4,4 L8,0 L11,3 L10,12 L7,13 L7,8 L4,8 L4,14 L1,13 Z" fill="#fff" stroke="#000" stroke-width="1.3" stroke-linejoin="round"/></g>
<g transform="translate(905,66)"><path d="M0,0 L4,4 L8,0 L11,3 L10,12 L7,13 L7,8 L4,8 L4,14 L1,13 Z" fill="#fff" stroke="#000" stroke-width="1.3" stroke-linejoin="round"/></g>
<g transform="translate(901,335) rotate(0) scale(0.66)"><path d="M0,5.4 L5.4,1.1 L10.9,2.7 L13,4.9 L19.5,3.8 L21.2,4.3 L20.1,9.2 L14.7,11.4 L12,10.3 L8.7,8.1 L1.1,7.6 Z" fill="#fff" stroke="#000" stroke-width="1.7" stroke-linejoin="round"/><path d="M3.3,5.4 L8.7,6.5 L6.5,4.3 M13,4.9 L14.7,11.4" fill="none" stroke="#000" stroke-width="1.3"/></g>
<g transform="translate(899,369)"><path d="M0,0 L4,4 L8,0 L11,3 L10,12 L7,13 L7,8 L4,8 L4,14 L1,13 Z" fill="#fff" stroke="#000" stroke-width="1.3" stroke-linejoin="round"/></g>
<g transform="translate(1017,302)"><path d="M0,0 L4,4 L8,0 L11,3 L10,12 L7,13 L7,8 L4,8 L4,14 L1,13 Z" fill="#fff" stroke="#000" stroke-width="1.3" stroke-linejoin="round"/></g>
<g transform="translate(435,382.5) rotate(0) scale(0.95)"><path d="M0,5.4 L5.4,1.1 L10.9,2.7 L13,4.9 L19.5,3.8 L21.2,4.3 L20.1,9.2 L14.7,11.4 L12,10.3 L8.7,8.1 L1.1,7.6 Z" fill="#fff" stroke="#000" stroke-width="1.7" stroke-linejoin="round"/><path d="M3.3,5.4 L8.7,6.5 L6.5,4.3 M13,4.9 L14.7,11.4" fill="none" stroke="#000" stroke-width="1.3"/></g>
<path d="M45.9,518 L51.7,502.2 L54.4,505.8 L73.9,497.2 L79.8,510.3 L59.4,519.8 L60.8,524.3 Z" fill="#000" stroke="#000" stroke-width="1" stroke-linejoin="round"/>
<text x="156" y="110.5" font-size="18" text-anchor="middle" class="n">11</text>
<text x="212" y="96.5" font-size="18" text-anchor="middle" class="n">14</text>
<text x="326" y="83.5" font-size="18" text-anchor="middle" class="n">13</text>
<text x="364" y="125.5" font-size="18" text-anchor="middle" class="n">9</text>
<text x="605" y="35.5" font-size="18" text-anchor="middle" class="n">3</text>
<text x="748" y="30.5" font-size="18" text-anchor="middle" class="n">20</text>
<text x="731" y="49.5" font-size="18" text-anchor="middle" class="n">27</text>
<text x="682" y="123.5" font-size="18" text-anchor="middle" class="n">2</text>
<text x="727" y="110.5" font-size="18" text-anchor="middle" class="n">25</text>
<text x="769" y="105.5" font-size="18" text-anchor="middle" class="n">25</text>
<text x="826" y="116.5" font-size="18" text-anchor="middle" class="n">4</text>
<text x="911" y="101.5" font-size="18" text-anchor="middle" class="n">25</text>
<text x="869" y="140.5" font-size="18" text-anchor="middle" class="n">24</text>
<text x="904" y="150.5" font-size="18" text-anchor="middle" class="n">24</text>
<text x="947" y="118.5" font-size="18" text-anchor="middle" class="n">23</text>
<text x="1003" y="164.5" font-size="18" text-anchor="middle" class="n">5</text>
<text x="787" y="172.5" font-size="18" text-anchor="middle" class="n">21</text>
<text x="848" y="181.5" font-size="18" text-anchor="middle" class="n">26</text>
<text x="925" y="191.5" font-size="18" text-anchor="middle" class="n">16</text>
<text x="958" y="227.5" font-size="18" text-anchor="middle" class="n">14</text>
<text x="864" y="252.5" font-size="18" text-anchor="middle" class="n">28</text>
<text x="651" y="224.5" font-size="18" text-anchor="middle" class="n">14</text>
<text x="682" y="247.5" font-size="18" text-anchor="middle" class="n">12</text>
<text x="619" y="276.5" font-size="18" text-anchor="middle" class="n">12</text>
<text x="577" y="275.5" font-size="18" text-anchor="middle" class="n">17</text>
<text x="479" y="172.5" font-size="18" text-anchor="middle" class="n">17</text>
<text x="269" y="204.5" font-size="18" text-anchor="middle" class="n">15</text>
<text x="48" y="239.5" font-size="18" text-anchor="middle" class="n">29</text>
<text x="88" y="275.5" font-size="18" text-anchor="middle" class="n">25</text>
<text x="65" y="344.5" font-size="18" text-anchor="middle" class="n">24</text>
<text x="108" y="354.5" font-size="18" text-anchor="middle" class="n">24</text>
<text x="65" y="406.5" font-size="18" text-anchor="middle" class="n">1</text>
<text x="146" y="437.5" font-size="18" text-anchor="middle" class="n">23</text>
<text x="239" y="442.5" font-size="18" text-anchor="middle" class="n">19</text>
<text x="195" y="270.5" font-size="18" text-anchor="middle" class="n">18</text>
<text x="220" y="304.5" font-size="18" text-anchor="middle" class="n">7</text>
<text x="292" y="411.5" font-size="18" text-anchor="middle" class="n">8</text>
<text x="446" y="356.5" font-size="18" text-anchor="middle" class="n">10</text>
<text x="592" y="364.5" font-size="18" text-anchor="middle" class="n">11</text>
<text x="454" y="416.5" font-size="18" text-anchor="middle" class="n">25</text>
<text x="530" y="413.5" font-size="18" text-anchor="middle" class="n">1</text>
<text x="550" y="463.5" font-size="18" text-anchor="middle" class="n">29</text>
<text x="425" y="487.5" font-size="18" text-anchor="middle" class="n">24</text>
<text x="470" y="497.5" font-size="18" text-anchor="middle" class="n">24</text>
<text x="368" y="515.5" font-size="18" text-anchor="middle" class="n">23</text>
<text x="812" y="366.5" font-size="18" text-anchor="middle" class="n">2</text>
<text x="915" y="324.5" font-size="18" text-anchor="middle" class="n">25</text>
<text x="905" y="364.5" font-size="18" text-anchor="middle" class="n">25</text>
<text x="988" y="310.5" font-size="18" text-anchor="middle" class="n">25</text>
<text x="938" y="420.5" font-size="18" text-anchor="middle" class="n">6</text>
<text x="968" y="451.5" font-size="18" text-anchor="middle" class="n">23</text>
<text x="1027" y="406.5" font-size="18" text-anchor="middle" class="n">24</text>
<text x="1065" y="370.5" font-size="18" text-anchor="middle" class="n">24</text>
<text x="903" y="488.5" font-size="18" text-anchor="middle" class="n">26</text>
<text x="1042" y="501.5" font-size="18" text-anchor="middle" class="n">22</text>
<text x="892.6" y="25.0" font-size="18.5" text-anchor="middle" class="b" textLength="72.7" lengthAdjust="spacing">B-19-10</text>
<text x="36.5" y="312.3" font-size="18.5" text-anchor="middle" class="b" textLength="41.7" lengthAdjust="spacing">B-22</text>
<text x="241" y="274.6" font-size="18.5" text-anchor="middle" class="b" textLength="43.1" lengthAdjust="spacing">B-24</text>
<text x="353.9" y="442.20000000000005" font-size="18.5" text-anchor="middle" class="b" textLength="71.10000000000001" lengthAdjust="spacing">B-24-20</text>
<text x="546.2" y="521.1" font-size="18.5" text-anchor="middle" class="b" textLength="43.800000000000004" lengthAdjust="spacing">B-22</text>
<text x="1048.4" y="474.5" font-size="18.5" text-anchor="middle" class="b" textLength="71.9" lengthAdjust="spacing">B-19-10</text>
<text x="81.5" y="508" font-size="17" transform="rotate(-22 81.5 508)" class="b" textLength="31" lengthAdjust="spacing">FR.</text>
<text x="821.5" y="532.7" font-size="16" class="s" textLength="112" lengthAdjust="spacing">S9V4–B2520A</text>
</svg>
</body></html>
